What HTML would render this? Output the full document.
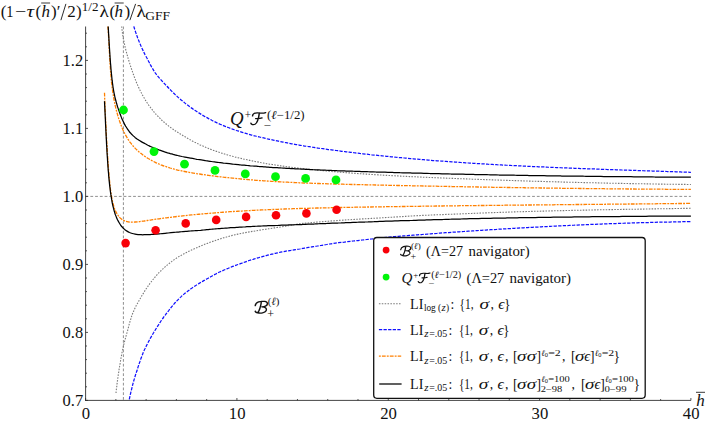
<!DOCTYPE html>
<html><head><meta charset="utf-8"><title>plot</title>
<style>html,body{margin:0;padding:0;background:#fff}body{width:706px;height:426px;position:relative;overflow:hidden;font-family:"Liberation Serif",serif}</style></head>
<body>
<svg width="706" height="426" viewBox="0 0 706 426" style="position:absolute;left:0;top:0;font-family:'Liberation Serif',serif">
<rect width="706" height="426" fill="#fff"/>
<g fill="none" stroke="#7c7c7c" stroke-width="0.85" stroke-dasharray="2.8 1.95">
<path d="M85.6 196.4H690.9"/>
<path d="M123.4 26.5V400.4"/>
</g>
<g fill="none" stroke-linecap="butt" stroke-linejoin="round">
<path stroke="#7a7a7a" stroke-width="1.1" stroke-dasharray="1.55 1.32" d="M121.7 26.4C121.7 26.9 121.9 28.4 122.0 29.4C122.1 30.4 122.2 31.4 122.4 32.4C122.5 33.4 122.6 34.4 122.8 35.4C123.0 36.4 123.1 37.3 123.3 38.3C123.5 39.3 123.7 40.3 123.9 41.2C124.0 42.2 124.3 43.2 124.5 44.2C124.7 45.1 124.9 46.1 125.1 47.1C125.4 48.0 125.6 49.0 125.8 50.0C126.1 50.9 126.3 51.9 126.6 52.8C126.9 53.8 127.1 54.8 127.4 55.7C127.7 56.7 128.0 57.6 128.2 58.6C128.5 59.5 128.8 60.5 129.1 61.5C129.4 62.4 129.7 63.4 130.0 64.3C130.3 65.3 130.6 66.2 130.9 67.2C131.2 68.1 131.5 69.1 131.9 70.0C132.2 71.0 132.5 71.9 132.8 72.9C133.2 73.8 133.5 74.8 133.9 75.7C134.2 76.7 134.6 77.6 134.9 78.5C135.3 79.5 135.7 80.4 136.0 81.3C136.4 82.3 136.8 83.2 137.2 84.1C137.6 85.0 138.0 85.9 138.4 86.9C138.8 87.8 139.3 88.7 139.7 89.6C140.1 90.5 140.6 91.4 141.0 92.3C141.5 93.1 141.9 94.0 142.4 94.9C142.9 95.8 143.4 96.6 143.9 97.5C144.4 98.4 144.9 99.2 145.4 100.1C145.9 100.9 146.5 101.8 147.0 102.6C147.6 103.4 148.1 104.2 148.7 105.1C149.3 105.9 149.9 106.7 150.5 107.5C151.1 108.3 151.7 109.1 152.3 109.8C152.9 110.6 153.5 111.4 154.2 112.1C154.8 112.9 155.5 113.7 156.1 114.4C156.8 115.1 157.5 115.9 158.2 116.6C158.9 117.3 159.6 118.0 160.3 118.7C161.0 119.4 161.7 120.1 162.4 120.8C163.2 121.4 163.9 122.1 164.7 122.7C165.4 123.4 166.2 124.0 167.0 124.7C167.8 125.3 168.5 125.9 169.3 126.5C170.1 127.1 170.9 127.7 171.7 128.3C172.6 128.9 173.4 129.5 174.2 130.0C175.0 130.6 175.9 131.2 176.7 131.7C177.5 132.3 178.4 132.8 179.2 133.3C180.1 133.9 180.9 134.4 181.8 134.9C182.7 135.4 183.5 136.0 184.4 136.5C185.2 137.0 186.1 137.5 187.0 138.0C187.8 138.5 188.7 139.0 189.6 139.5C190.5 139.9 191.3 140.4 192.2 140.9C193.1 141.4 194.0 141.8 194.9 142.3C195.8 142.7 196.7 143.2 197.5 143.6C198.4 144.0 199.3 144.5 200.2 144.9C201.2 145.3 202.1 145.7 203.0 146.1C203.9 146.5 204.8 146.9 205.7 147.3C206.6 147.7 207.6 148.1 208.5 148.4C209.4 148.8 210.3 149.2 211.3 149.5C212.2 149.9 213.1 150.2 214.1 150.6C215.0 150.9 216.0 151.2 216.9 151.5C217.8 151.9 218.8 152.2 219.7 152.5C220.7 152.8 221.6 153.1 222.6 153.4C223.5 153.7 224.5 154.0 225.5 154.3C226.4 154.6 227.4 154.8 228.3 155.1C229.3 155.4 230.3 155.7 231.2 155.9C232.2 156.2 233.1 156.4 234.1 156.7C235.1 157.0 236.1 157.2 237.0 157.4C238.0 157.7 239.0 157.9 239.9 158.2C240.9 158.4 241.9 158.6 242.9 158.8C243.8 159.1 244.8 159.3 245.8 159.5C246.8 159.7 247.7 159.9 248.7 160.1C249.7 160.4 250.7 160.6 251.6 160.8C252.6 161.0 253.6 161.2 254.6 161.4C255.6 161.6 256.5 161.8 257.5 161.9C258.5 162.1 259.5 162.3 260.5 162.5C261.4 162.7 262.4 162.9 263.4 163.0C264.4 163.2 265.4 163.4 266.4 163.6C267.3 163.7 268.3 163.9 269.3 164.1C270.3 164.2 271.3 164.4 272.3 164.5C273.3 164.7 274.2 164.8 275.2 165.0C276.2 165.2 277.2 165.3 278.2 165.4C279.2 165.6 280.2 165.7 281.2 165.9C282.1 166.0 283.1 166.2 284.1 166.3C285.1 166.4 286.1 166.6 287.1 166.7C288.1 166.8 289.1 167.0 290.1 167.1C291.0 167.2 292.0 167.3 293.0 167.5C294.0 167.6 295.0 167.7 296.0 167.8C297.0 168.0 298.0 168.1 299.0 168.2C300.0 168.3 301.0 168.4 301.9 168.5C302.9 168.6 303.9 168.8 304.9 168.9C305.9 169.0 306.9 169.1 307.9 169.2C308.9 169.3 309.9 169.4 310.9 169.5C311.9 169.6 312.9 169.7 313.9 169.8C314.9 169.9 315.8 170.0 316.8 170.1C317.8 170.2 318.8 170.3 319.8 170.4C320.8 170.5 321.8 170.6 322.8 170.7C323.8 170.8 324.8 170.8 325.8 170.9C326.8 171.0 327.8 171.1 328.8 171.2C329.8 171.3 330.8 171.4 331.8 171.5C332.7 171.6 333.7 171.6 334.7 171.7C335.7 171.8 336.7 171.9 337.7 172.0C338.7 172.1 339.7 172.1 340.7 172.2C341.7 172.3 342.7 172.4 343.7 172.5C344.7 172.5 345.7 172.6 346.7 172.7C347.7 172.8 348.7 172.9 349.7 172.9C350.7 173.0 351.7 173.1 352.7 173.2C353.6 173.2 354.6 173.3 355.6 173.4C356.6 173.4 357.6 173.5 358.6 173.6C359.6 173.7 360.6 173.7 361.6 173.8C362.6 173.9 363.6 173.9 364.6 174.0C365.6 174.1 366.6 174.1 367.6 174.2C368.6 174.3 369.6 174.3 370.6 174.4C371.6 174.5 372.6 174.5 373.6 174.6C374.6 174.6 375.6 174.7 376.6 174.8C377.6 174.8 378.6 174.9 379.5 174.9C380.5 175.0 381.5 175.1 382.5 175.1C383.5 175.2 384.5 175.2 385.5 175.3C386.5 175.4 387.5 175.4 388.5 175.5C389.5 175.5 390.5 175.6 391.5 175.6C392.5 175.7 393.5 175.7 394.5 175.8C395.5 175.8 396.5 175.9 397.5 175.9C398.5 176.0 399.5 176.1 400.5 176.1C401.5 176.2 402.5 176.2 403.5 176.3C404.5 176.3 405.5 176.4 406.5 176.4C407.5 176.5 408.5 176.5 409.5 176.6C410.5 176.6 411.5 176.6 412.5 176.7C413.5 176.7 414.4 176.8 415.4 176.8C416.4 176.9 417.4 176.9 418.4 177.0C419.4 177.0 420.4 177.1 421.4 177.1C422.4 177.2 423.4 177.2 424.4 177.2C425.4 177.3 426.4 177.3 427.4 177.4C428.4 177.4 429.4 177.5 430.4 177.5C431.4 177.5 432.4 177.6 433.4 177.6C434.4 177.7 435.4 177.7 436.4 177.8C437.4 177.8 438.4 177.8 439.4 177.9C440.4 177.9 441.4 178.0 442.4 178.0C443.4 178.0 444.4 178.1 445.4 178.1C446.4 178.2 447.4 178.2 448.4 178.2C449.4 178.3 450.4 178.3 451.4 178.4C452.4 178.4 453.4 178.4 454.4 178.5C455.4 178.5 456.4 178.6 457.4 178.6C458.3 178.6 459.3 178.7 460.3 178.7C461.3 178.7 462.3 178.8 463.3 178.8C464.3 178.9 465.3 178.9 466.3 178.9C467.3 179.0 468.3 179.0 469.3 179.0C470.3 179.1 471.3 179.1 472.3 179.2C473.3 179.2 474.3 179.2 475.3 179.3C476.3 179.3 477.3 179.3 478.3 179.4C479.3 179.4 480.3 179.5 481.3 179.5C482.3 179.5 483.3 179.6 484.3 179.6C485.3 179.6 486.3 179.7 487.3 179.7C488.3 179.7 489.3 179.8 490.3 179.8C491.3 179.8 492.3 179.9 493.3 179.9C494.3 179.9 495.3 180.0 496.3 180.0C497.3 180.0 498.3 180.1 499.3 180.1C500.3 180.1 501.3 180.2 502.3 180.2C503.3 180.2 504.2 180.3 505.2 180.3C506.2 180.3 507.2 180.4 508.2 180.4C509.2 180.4 510.2 180.5 511.2 180.5C512.2 180.5 513.2 180.6 514.2 180.6C515.2 180.6 516.2 180.7 517.2 180.7C518.2 180.7 519.2 180.8 520.2 180.8C521.2 180.8 522.2 180.9 523.2 180.9C524.2 180.9 525.2 181.0 526.2 181.0C527.2 181.0 528.2 181.0 529.2 181.1C530.2 181.1 531.2 181.1 532.2 181.2C533.2 181.2 534.2 181.2 535.2 181.3C536.2 181.3 537.2 181.3 538.2 181.4C539.2 181.4 540.2 181.4 541.2 181.4C542.2 181.5 543.2 181.5 544.2 181.5C545.2 181.6 546.2 181.6 547.2 181.6C548.2 181.6 549.2 181.7 550.2 181.7C551.1 181.7 552.1 181.8 553.1 181.8C554.1 181.8 555.1 181.8 556.1 181.9C557.1 181.9 558.1 181.9 559.1 181.9C560.1 182.0 561.1 182.0 562.1 182.0C563.1 182.1 564.1 182.1 565.1 182.1C566.1 182.1 567.1 182.2 568.1 182.2C569.1 182.2 570.1 182.2 571.1 182.3C572.1 182.3 573.1 182.3 574.1 182.3C575.1 182.4 576.1 182.4 577.1 182.4C578.1 182.4 579.1 182.5 580.1 182.5C581.1 182.5 582.1 182.5 583.1 182.6C584.1 182.6 585.1 182.6 586.1 182.6C587.1 182.7 588.1 182.7 589.1 182.7C590.1 182.7 591.1 182.8 592.1 182.8C593.1 182.8 594.1 182.8 595.1 182.8C596.1 182.9 597.1 182.9 598.1 182.9C599.1 182.9 600.1 183.0 601.0 183.0C602.0 183.0 603.0 183.0 604.0 183.0C605.0 183.1 606.0 183.1 607.0 183.1C608.0 183.1 609.0 183.2 610.0 183.2C611.0 183.2 612.0 183.2 613.0 183.2C614.0 183.3 615.0 183.3 616.0 183.3C617.0 183.3 618.0 183.3 619.0 183.4C620.0 183.4 621.0 183.4 622.0 183.4C623.0 183.4 624.0 183.5 625.0 183.5C626.0 183.5 627.0 183.5 628.0 183.5C629.0 183.6 630.0 183.6 631.0 183.6C632.0 183.6 633.0 183.6 634.0 183.6C635.0 183.7 636.0 183.7 637.0 183.7C638.0 183.7 639.0 183.7 640.0 183.8C641.0 183.8 642.0 183.8 643.0 183.8C644.0 183.8 645.0 183.8 646.0 183.9C647.0 183.9 648.0 183.9 649.0 183.9C650.0 183.9 651.0 183.9 652.0 184.0C653.0 184.0 654.0 184.0 655.0 184.0C656.0 184.0 657.0 184.0 657.9 184.1C658.9 184.1 659.9 184.1 660.9 184.1C661.9 184.1 662.9 184.1 663.9 184.1C664.9 184.2 665.9 184.2 666.9 184.2C667.9 184.2 668.9 184.2 669.9 184.2C670.9 184.2 671.9 184.3 672.9 184.3C673.9 184.3 674.9 184.3 675.9 184.3C676.9 184.3 677.9 184.3 678.9 184.4C679.9 184.4 680.9 184.4 681.9 184.4C682.9 184.4 683.9 184.4 684.9 184.4C685.9 184.4 686.9 184.5 687.9 184.5C688.9 184.5 690.4 184.5 690.9 184.5"/>
<path stroke="#7a7a7a" stroke-width="1.1" stroke-dasharray="1.55 1.32" d="M116.0 393.0C116.1 392.5 116.2 391.0 116.3 390.0C116.4 389.0 116.6 388.0 116.7 387.1C116.8 386.1 116.9 385.1 117.0 384.1C117.2 383.1 117.3 382.1 117.4 381.1C117.6 380.1 117.7 379.2 117.8 378.2C118.0 377.2 118.1 376.2 118.2 375.2C118.4 374.2 118.5 373.2 118.7 372.3C118.8 371.3 119.0 370.3 119.1 369.3C119.3 368.3 119.4 367.3 119.6 366.4C119.7 365.4 119.9 364.4 120.1 363.4C120.2 362.4 120.4 361.4 120.6 360.5C120.8 359.5 120.9 358.5 121.1 357.5C121.3 356.6 121.5 355.6 121.7 354.6C121.9 353.6 122.0 352.6 122.2 351.7C122.4 350.7 122.6 349.7 122.9 348.8C123.1 347.8 123.3 346.8 123.5 345.8C123.7 344.9 123.9 343.9 124.2 342.9C124.4 342.0 124.7 341.0 124.9 340.0C125.2 339.1 125.5 338.1 125.7 337.1C126.0 336.2 126.3 335.2 126.5 334.2C126.8 333.3 127.1 332.3 127.4 331.3C127.7 330.4 127.9 329.4 128.2 328.5C128.4 327.5 128.6 326.5 128.9 325.6C129.1 324.7 129.3 323.8 129.6 322.9C129.9 322.0 130.1 321.1 130.4 320.3C130.7 319.4 131.0 318.5 131.2 317.6C131.5 316.7 131.8 315.9 132.1 315.0C132.4 314.1 132.7 313.3 133.1 312.4C133.4 311.6 133.8 310.7 134.2 309.9C134.6 309.0 135.0 308.2 135.4 307.3C135.8 306.5 136.2 305.7 136.6 304.9C137.0 304.1 137.5 303.3 137.9 302.5C138.4 301.7 138.8 301.0 139.3 300.2C139.8 299.4 140.2 298.6 140.7 297.8C141.2 296.9 141.7 296.0 142.2 295.2C142.7 294.3 143.2 293.5 143.8 292.6C144.3 291.8 144.8 290.9 145.4 290.1C145.9 289.2 146.5 288.4 147.1 287.5C147.7 286.7 148.2 285.8 148.8 285.0C149.4 284.2 150.0 283.4 150.6 282.5C151.3 281.7 151.9 280.9 152.5 280.1C153.2 279.3 153.8 278.5 154.5 277.8C155.1 277.0 155.8 276.2 156.5 275.5C157.1 274.7 157.8 273.9 158.5 273.2C159.2 272.5 159.9 271.7 160.7 271.0C161.4 270.3 162.1 269.6 162.9 268.9C163.6 268.2 164.4 267.6 165.1 266.9C165.9 266.2 166.6 265.6 167.4 264.9C168.2 264.3 169.0 263.6 169.8 263.0C170.6 262.4 171.4 261.7 172.2 261.1C173.0 260.5 173.8 259.9 174.7 259.3C175.5 258.7 176.3 258.2 177.2 257.7C178.0 257.1 178.9 256.6 179.7 256.2C180.6 255.7 181.4 255.2 182.3 254.7C183.2 254.2 184.0 253.8 184.9 253.3C185.8 252.8 186.7 252.4 187.6 252.0C188.4 251.5 189.3 251.1 190.2 250.7C191.1 250.2 192.0 249.8 192.9 249.4C193.8 249.0 194.7 248.6 195.6 248.2C196.6 247.8 197.5 247.4 198.4 247.0C199.3 246.6 200.2 246.2 201.1 245.8C202.0 245.4 203.0 245.1 203.9 244.7C204.8 244.3 205.7 244.0 206.7 243.6C207.6 243.3 208.5 242.9 209.5 242.6C210.4 242.2 211.3 241.9 212.3 241.6C213.2 241.2 214.1 240.9 215.1 240.6C216.0 240.3 217.0 240.0 217.9 239.6C218.9 239.3 219.8 239.0 220.7 238.7C221.7 238.4 222.6 238.1 223.6 237.8C224.5 237.6 225.5 237.3 226.5 237.0C227.4 236.7 228.4 236.5 229.3 236.2C230.3 235.9 231.2 235.7 232.2 235.4C233.2 235.2 234.1 234.9 235.1 234.7C236.1 234.5 237.0 234.3 238.0 234.1C239.0 233.9 239.9 233.7 240.9 233.5C241.9 233.3 242.8 233.1 243.8 232.9C244.8 232.7 245.7 232.6 246.7 232.4C247.7 232.2 248.7 232.0 249.6 231.9C250.6 231.7 251.6 231.5 252.6 231.4C253.5 231.2 254.5 231.0 255.5 230.9C256.5 230.7 257.4 230.5 258.4 230.4C259.4 230.2 260.4 230.1 261.4 229.9C262.3 229.7 263.3 229.6 264.3 229.5C265.3 229.3 266.3 229.2 267.3 229.0C268.2 228.9 269.2 228.7 270.2 228.6C271.2 228.4 272.2 228.2 273.2 228.1C274.2 227.9 275.2 227.8 276.1 227.6C277.1 227.5 278.1 227.3 279.1 227.2C280.1 227.0 281.1 226.9 282.1 226.7C283.1 226.6 284.1 226.5 285.0 226.3C286.0 226.2 287.0 225.9 288.0 225.8C289.0 225.6 290.0 225.4 291.0 225.2C292.0 225.1 293.0 224.9 294.0 224.7C295.0 224.6 296.0 224.4 296.9 224.2C297.9 224.1 298.9 223.9 299.9 223.7C300.9 223.6 301.9 223.5 302.9 223.4C303.9 223.3 304.9 223.2 305.9 223.1C306.9 223.0 307.9 222.9 308.9 222.8C309.9 222.8 310.9 222.7 311.9 222.6C312.9 222.5 313.8 222.4 314.8 222.3C315.8 222.2 316.8 222.1 317.8 222.0C318.8 222.0 319.8 221.9 320.8 221.8C321.8 221.7 322.8 221.6 323.8 221.6C324.8 221.5 325.8 221.4 326.8 221.3C327.8 221.2 328.8 221.2 329.8 221.1C330.7 221.0 331.7 220.9 332.7 220.9C333.7 220.8 334.7 220.7 335.7 220.6C336.7 220.6 337.7 220.5 338.7 220.4C339.7 220.3 340.7 220.3 341.7 220.2C342.7 220.1 343.7 220.1 344.6 220.0C345.6 220.0 346.6 219.9 347.6 219.8C348.6 219.8 349.6 219.7 350.6 219.7C351.6 219.6 352.6 219.5 353.6 219.5C354.6 219.4 355.6 219.4 356.6 219.3C357.6 219.2 358.6 219.2 359.5 219.1C360.5 219.1 361.5 219.0 362.5 218.9C363.5 218.9 364.5 218.8 365.5 218.8C366.5 218.7 367.5 218.6 368.5 218.6C369.5 218.5 370.5 218.5 371.5 218.4C372.5 218.4 373.4 218.3 374.4 218.2C375.4 218.2 376.4 218.1 377.4 218.1C378.4 218.0 379.4 217.9 380.4 217.9C381.4 217.8 382.4 217.8 383.4 217.7C384.4 217.6 385.4 217.6 386.4 217.5C387.4 217.5 388.4 217.4 389.4 217.3C390.3 217.3 391.3 217.2 392.3 217.2C393.3 217.1 394.3 217.0 395.3 217.0C396.3 216.9 397.3 216.9 398.3 216.8C399.3 216.7 400.3 216.7 401.3 216.6C402.3 216.6 403.3 216.5 404.3 216.4C405.3 216.4 406.3 216.3 407.3 216.3C408.2 216.2 409.2 216.1 410.2 216.1C411.2 216.0 412.2 216.0 413.2 215.9C414.2 215.9 415.2 215.8 416.2 215.7C417.2 215.7 418.2 215.6 419.2 215.6C420.2 215.5 421.2 215.5 422.2 215.4C423.2 215.4 424.2 215.3 425.2 215.3C426.2 215.2 427.1 215.2 428.1 215.2C429.1 215.1 430.1 215.1 431.1 215.0C432.1 215.0 433.1 215.0 434.1 214.9C435.1 214.9 436.1 214.8 437.1 214.8C438.1 214.8 439.1 214.7 440.1 214.7C441.1 214.6 442.1 214.6 443.1 214.6C444.1 214.5 445.1 214.5 446.1 214.4C447.0 214.4 448.0 214.4 449.0 214.3C450.0 214.3 451.0 214.2 452.0 214.2C453.0 214.2 454.0 214.1 455.0 214.1C456.0 214.1 457.0 214.0 458.0 214.0C459.0 214.0 460.0 213.9 461.0 213.9C462.0 213.8 463.0 213.8 464.0 213.7C465.0 213.7 466.0 213.7 467.0 213.6C467.9 213.6 468.9 213.5 469.9 213.5C470.9 213.5 471.9 213.4 472.9 213.4C473.9 213.3 474.9 213.3 475.9 213.3C476.9 213.2 477.9 213.2 478.9 213.1C479.9 213.1 480.9 213.1 481.9 213.0C482.9 213.0 483.9 213.0 484.9 212.9C485.9 212.9 486.9 212.8 487.8 212.8C488.8 212.8 489.8 212.7 490.8 212.7C491.8 212.7 492.8 212.6 493.8 212.6C494.8 212.6 495.8 212.5 496.8 212.5C497.8 212.5 498.8 212.4 499.8 212.4C500.8 212.4 501.8 212.3 502.8 212.3C503.8 212.3 504.8 212.2 505.8 212.2C506.8 212.2 507.7 212.1 508.7 212.1C509.7 212.1 510.7 212.0 511.7 212.0C512.7 212.0 513.7 211.9 514.7 211.9C515.7 211.9 516.7 211.8 517.7 211.8C518.7 211.8 519.7 211.8 520.7 211.7C521.7 211.7 522.7 211.7 523.7 211.6C524.7 211.6 525.7 211.6 526.7 211.5C527.7 211.5 528.6 211.5 529.6 211.5C530.6 211.4 531.6 211.4 532.6 211.4C533.6 211.3 534.6 211.3 535.6 211.3C536.6 211.3 537.6 211.2 538.6 211.2C539.6 211.2 540.6 211.2 541.6 211.1C542.6 211.1 543.6 211.1 544.6 211.1C545.6 211.0 546.6 211.0 547.6 211.0C548.5 211.0 549.5 210.9 550.5 210.9C551.5 210.9 552.5 210.9 553.5 210.8C554.5 210.8 555.5 210.8 556.5 210.8C557.5 210.7 558.5 210.7 559.5 210.7C560.5 210.7 561.5 210.6 562.5 210.6C563.5 210.6 564.5 210.6 565.5 210.5C566.5 210.5 567.5 210.5 568.5 210.5C569.4 210.5 570.4 210.4 571.4 210.4C572.4 210.4 573.4 210.4 574.4 210.3C575.4 210.3 576.4 210.3 577.4 210.3C578.4 210.3 579.4 210.2 580.4 210.2C581.4 210.2 582.4 210.2 583.4 210.1C584.4 210.1 585.4 210.1 586.4 210.1C587.4 210.1 588.4 210.0 589.4 210.0C590.3 210.0 591.3 210.0 592.3 210.0C593.3 209.9 594.3 209.9 595.3 209.9C596.3 209.9 597.3 209.9 598.3 209.8C599.3 209.8 600.3 209.8 601.3 209.8C602.3 209.8 603.3 209.8 604.3 209.7C605.3 209.7 606.3 209.7 607.3 209.7C608.3 209.7 609.3 209.6 610.3 209.6C611.2 209.6 612.2 209.6 613.2 209.6C614.2 209.5 615.2 209.5 616.2 209.5C617.2 209.5 618.2 209.5 619.2 209.5C620.2 209.4 621.2 209.4 622.2 209.4C623.2 209.4 624.2 209.4 625.2 209.4C626.2 209.3 627.2 209.3 628.2 209.3C629.2 209.3 630.2 209.3 631.2 209.3C632.2 209.2 633.1 209.2 634.1 209.2C635.1 209.2 636.1 209.2 637.1 209.2C638.1 209.1 639.1 209.1 640.1 209.1C641.1 209.1 642.1 209.1 643.1 209.1C644.1 209.0 645.1 209.0 646.1 209.0C647.1 209.0 648.1 209.0 649.1 209.0C650.1 208.9 651.1 208.9 652.1 208.9C653.1 208.9 654.1 208.9 655.1 208.9C656.0 208.8 657.0 208.8 658.0 208.8C659.0 208.8 660.0 208.8 661.0 208.8C662.0 208.8 663.0 208.7 664.0 208.7C665.0 208.7 666.0 208.7 667.0 208.7C668.0 208.7 669.0 208.6 670.0 208.6C671.0 208.6 672.0 208.6 673.0 208.6C674.0 208.6 675.0 208.5 676.0 208.5C677.0 208.5 678.0 208.5 678.9 208.5C679.9 208.5 680.9 208.5 681.9 208.4C682.9 208.4 683.9 208.4 684.9 208.4C685.9 208.4 686.9 208.4 687.9 208.3C688.9 208.3 690.4 208.3 690.9 208.3"/>
<path stroke="#1010ff" stroke-width="1.25" stroke-dasharray="3.3 1.3" d="M133.8 26.4C133.9 26.9 134.4 28.3 134.7 29.3C135.0 30.2 135.3 31.2 135.6 32.1C135.9 33.0 136.3 34.0 136.6 34.9C136.9 35.9 137.3 36.8 137.6 37.7C138.0 38.7 138.3 39.6 138.7 40.5C139.1 41.5 139.4 42.4 139.8 43.3C140.2 44.2 140.6 45.1 141.0 46.1C141.4 47.0 141.8 47.9 142.2 48.8C142.6 49.7 143.1 50.6 143.5 51.5C143.9 52.4 144.4 53.3 144.8 54.2C145.3 55.1 145.7 55.9 146.2 56.8C146.7 57.7 147.2 58.6 147.6 59.4C148.1 60.3 148.5 61.2 149.0 62.0C149.4 62.9 149.9 63.7 150.3 64.6C150.8 65.4 151.3 66.3 151.7 67.1C152.2 68.0 152.7 68.8 153.2 69.6C153.7 70.4 154.2 71.3 154.7 72.1C155.2 72.9 155.8 73.7 156.4 74.5C157.0 75.3 157.7 76.1 158.4 76.9C159.1 77.7 159.7 78.4 160.4 79.2C161.1 80.0 161.8 80.8 162.5 81.5C163.2 82.3 164.0 83.1 164.7 83.8C165.4 84.6 166.1 85.3 166.8 86.0C167.5 86.8 168.1 87.5 168.8 88.2C169.5 89.0 170.2 89.7 170.9 90.4C171.6 91.1 172.3 91.8 173.0 92.5C173.7 93.2 174.4 93.9 175.2 94.6C175.9 95.3 176.6 95.9 177.4 96.6C178.1 97.3 178.8 97.9 179.6 98.6C180.3 99.2 181.1 99.9 181.9 100.5C182.6 101.2 183.4 101.8 184.2 102.4C185.0 103.0 185.7 103.7 186.5 104.3C187.3 104.9 188.1 105.5 188.9 106.1C189.7 106.7 190.5 107.3 191.3 107.9C192.1 108.4 193.0 109.0 193.8 109.6C194.6 110.1 195.4 110.7 196.3 111.2C197.1 111.8 197.9 112.3 198.8 112.9C199.6 113.4 200.5 113.9 201.3 114.4C202.2 115.0 203.0 115.5 203.9 116.0C204.8 116.5 205.6 117.0 206.5 117.4C207.4 117.9 208.2 118.4 209.1 118.9C210.0 119.3 210.9 119.8 211.8 120.3C212.6 120.7 213.5 121.2 214.4 121.6C215.3 122.0 216.2 122.4 217.1 122.9C218.0 123.3 218.9 123.7 219.8 124.1C220.8 124.5 221.7 124.9 222.6 125.3C223.5 125.7 224.4 126.0 225.3 126.4C226.3 126.8 227.2 127.1 228.1 127.5C229.0 127.9 230.0 128.2 230.9 128.5C231.8 128.9 232.8 129.2 233.7 129.5C234.6 129.9 235.6 130.2 236.5 130.5C237.5 130.8 238.4 131.1 239.4 131.4C240.3 131.7 241.3 132.0 242.2 132.3C243.2 132.6 244.1 132.9 245.1 133.2C246.0 133.5 247.0 133.7 248.0 134.0C248.9 134.3 249.9 134.6 250.8 134.8C251.8 135.1 252.8 135.3 253.7 135.6C254.7 135.8 255.7 136.1 256.6 136.3C257.6 136.6 258.6 136.8 259.5 137.0C260.5 137.3 261.5 137.5 262.5 137.7C263.4 138.0 264.4 138.2 265.4 138.4C266.3 138.6 267.3 138.9 268.3 139.1C269.3 139.3 270.2 139.5 271.2 139.7C272.2 139.9 273.2 140.1 274.2 140.3C275.1 140.5 276.1 140.7 277.1 140.9C278.1 141.1 279.0 141.3 280.0 141.5C281.0 141.7 282.0 141.9 283.0 142.1C283.9 142.3 284.9 142.5 285.9 142.7C286.9 142.9 287.8 143.0 288.8 143.2C289.8 143.4 290.8 143.6 291.8 143.8C292.8 143.9 293.7 144.1 294.7 144.3C295.7 144.5 296.7 144.6 297.7 144.8C298.6 145.0 299.6 145.1 300.6 145.3C301.6 145.5 302.6 145.6 303.6 145.8C304.5 145.9 305.5 146.1 306.5 146.3C307.5 146.4 308.5 146.6 309.5 146.7C310.4 146.9 311.4 147.0 312.4 147.2C313.4 147.3 314.4 147.5 315.4 147.6C316.4 147.8 317.3 147.9 318.3 148.1C319.3 148.2 320.3 148.4 321.3 148.5C322.3 148.6 323.3 148.8 324.2 148.9C325.2 149.1 326.2 149.2 327.2 149.3C328.2 149.5 329.2 149.6 330.2 149.7C331.1 149.9 332.1 150.0 333.1 150.1C334.1 150.3 335.1 150.4 336.1 150.5C337.1 150.6 338.1 150.8 339.0 150.9C340.0 151.0 341.0 151.2 342.0 151.3C343.0 151.4 344.0 151.5 345.0 151.6C346.0 151.8 347.0 151.9 347.9 152.0C348.9 152.1 349.9 152.3 350.9 152.4C351.9 152.5 352.9 152.6 353.9 152.7C354.9 152.8 355.8 153.0 356.8 153.1C357.8 153.2 358.8 153.3 359.8 153.4C360.8 153.5 361.8 153.7 362.8 153.8C363.8 153.9 364.8 154.0 365.7 154.1C366.7 154.2 367.7 154.3 368.7 154.4C369.7 154.5 370.7 154.6 371.7 154.8C372.7 154.9 373.7 155.0 374.7 155.1C375.6 155.2 376.6 155.3 377.6 155.4C378.6 155.5 379.6 155.6 380.6 155.7C381.6 155.8 382.6 155.9 383.6 156.0C384.6 156.1 385.5 156.2 386.5 156.3C387.5 156.4 388.5 156.5 389.5 156.6C390.5 156.7 391.5 156.8 392.5 156.9C393.5 157.0 394.5 157.1 395.5 157.2C396.4 157.3 397.4 157.4 398.4 157.5C399.4 157.6 400.4 157.7 401.4 157.7C402.4 157.8 403.4 157.9 404.4 158.0C405.4 158.1 406.4 158.2 407.4 158.3C408.3 158.4 409.3 158.5 410.3 158.6C411.3 158.6 412.3 158.7 413.3 158.8C414.3 158.9 415.3 159.0 416.3 159.1C417.3 159.2 418.3 159.2 419.3 159.3C420.3 159.4 421.2 159.5 422.2 159.6C423.2 159.7 424.2 159.7 425.2 159.8C426.2 159.9 427.2 160.0 428.2 160.1C429.2 160.2 430.2 160.2 431.2 160.3C432.2 160.4 433.2 160.5 434.1 160.5C435.1 160.6 436.1 160.7 437.1 160.8C438.1 160.9 439.1 160.9 440.1 161.0C441.1 161.1 442.1 161.2 443.1 161.2C444.1 161.3 445.1 161.4 446.1 161.4C447.1 161.5 448.1 161.6 449.0 161.7C450.0 161.7 451.0 161.8 452.0 161.9C453.0 161.9 454.0 162.0 455.0 162.1C456.0 162.2 457.0 162.2 458.0 162.3C459.0 162.4 460.0 162.4 461.0 162.5C462.0 162.6 463.0 162.6 464.0 162.7C464.9 162.8 465.9 162.8 466.9 162.9C467.9 163.0 468.9 163.0 469.9 163.1C470.9 163.1 471.9 163.2 472.9 163.3C473.9 163.3 474.9 163.4 475.9 163.5C476.9 163.5 477.9 163.6 478.9 163.6C479.9 163.7 480.9 163.8 481.9 163.8C482.8 163.9 483.8 163.9 484.8 164.0C485.8 164.1 486.8 164.1 487.8 164.2C488.8 164.2 489.8 164.3 490.8 164.4C491.8 164.4 492.8 164.5 493.8 164.5C494.8 164.6 495.8 164.6 496.8 164.7C497.8 164.7 498.8 164.8 499.8 164.9C500.8 164.9 501.7 165.0 502.7 165.0C503.7 165.1 504.7 165.1 505.7 165.2C506.7 165.2 507.7 165.3 508.7 165.3C509.7 165.4 510.7 165.4 511.7 165.5C512.7 165.5 513.7 165.6 514.7 165.6C515.7 165.7 516.7 165.7 517.7 165.8C518.7 165.8 519.7 165.9 520.7 165.9C521.7 166.0 522.6 166.0 523.6 166.1C524.6 166.1 525.6 166.2 526.6 166.2C527.6 166.3 528.6 166.3 529.6 166.4C530.6 166.4 531.6 166.5 532.6 166.5C533.6 166.6 534.6 166.6 535.6 166.6C536.6 166.7 537.6 166.7 538.6 166.8C539.6 166.8 540.6 166.9 541.6 166.9C542.6 167.0 543.6 167.0 544.6 167.0C545.5 167.1 546.5 167.1 547.5 167.2C548.5 167.2 549.5 167.3 550.5 167.3C551.5 167.3 552.5 167.4 553.5 167.4C554.5 167.5 555.5 167.5 556.5 167.6C557.5 167.6 558.5 167.6 559.5 167.7C560.5 167.7 561.5 167.8 562.5 167.8C563.5 167.8 564.5 167.9 565.5 167.9C566.5 168.0 567.5 168.0 568.5 168.0C569.4 168.1 570.4 168.1 571.4 168.2C572.4 168.2 573.4 168.2 574.4 168.3C575.4 168.3 576.4 168.3 577.4 168.4C578.4 168.4 579.4 168.5 580.4 168.5C581.4 168.5 582.4 168.6 583.4 168.6C584.4 168.6 585.4 168.7 586.4 168.7C587.4 168.8 588.4 168.8 589.4 168.8C590.4 168.9 591.4 168.9 592.4 168.9C593.4 169.0 594.3 169.0 595.3 169.0C596.3 169.1 597.3 169.1 598.3 169.2C599.3 169.2 600.3 169.2 601.3 169.3C602.3 169.3 603.3 169.3 604.3 169.4C605.3 169.4 606.3 169.4 607.3 169.5C608.3 169.5 609.3 169.5 610.3 169.6C611.3 169.6 612.3 169.6 613.3 169.7C614.3 169.7 615.3 169.7 616.3 169.8C617.3 169.8 618.2 169.8 619.2 169.9C620.2 169.9 621.2 169.9 622.2 170.0C623.2 170.0 624.2 170.0 625.2 170.1C626.2 170.1 627.2 170.1 628.2 170.2C629.2 170.2 630.2 170.2 631.2 170.3C632.2 170.3 633.2 170.3 634.2 170.4C635.2 170.4 636.2 170.4 637.2 170.5C638.2 170.5 639.2 170.5 640.2 170.6C641.1 170.6 642.1 170.6 643.1 170.7C644.1 170.7 645.1 170.7 646.1 170.8C647.1 170.8 648.1 170.8 649.1 170.9C650.1 170.9 651.1 170.9 652.1 171.0C653.1 171.0 654.1 171.0 655.1 171.1C656.1 171.1 657.1 171.1 658.1 171.2C659.1 171.2 660.1 171.2 661.1 171.3C662.1 171.3 663.0 171.3 664.0 171.4C665.0 171.4 666.0 171.4 667.0 171.5C668.0 171.5 669.0 171.5 670.0 171.6C671.0 171.6 672.0 171.6 673.0 171.7C674.0 171.7 675.0 171.7 676.0 171.8C677.0 171.8 678.0 171.9 679.0 171.9C680.0 171.9 681.0 172.0 681.9 172.0C682.9 172.0 683.9 172.1 684.9 172.1C685.9 172.1 686.9 172.2 687.9 172.2C688.9 172.2 690.4 172.3 690.9 172.3"/>
<path stroke="#1010ff" stroke-width="1.25" stroke-dasharray="3.3 1.3" d="M129.3 399.4C129.4 398.9 129.7 397.4 129.9 396.4C130.1 395.4 130.3 394.4 130.6 393.5C130.8 392.5 131.0 391.5 131.3 390.5C131.5 389.5 131.8 388.5 132.0 387.6C132.3 386.6 132.5 385.6 132.7 384.7C133.0 383.7 133.2 382.7 133.5 381.8C133.8 380.8 134.0 379.8 134.3 378.9C134.6 377.9 134.9 377.0 135.2 376.0C135.5 375.0 135.8 374.1 136.1 373.2C136.4 372.2 136.8 371.3 137.1 370.3C137.4 369.4 137.7 368.4 137.9 367.5C138.2 366.6 138.5 365.6 138.8 364.7C139.1 363.8 139.4 362.8 139.8 361.9C140.1 361.0 140.4 360.1 140.7 359.2C141.1 358.2 141.4 357.3 141.8 356.4C142.1 355.5 142.5 354.6 142.8 353.7C143.2 352.8 143.5 351.9 143.9 351.0C144.3 350.1 144.7 349.2 145.2 348.3C145.6 347.4 146.0 346.5 146.5 345.6C147.0 344.7 147.4 343.8 147.9 342.9C148.3 342.1 148.8 341.2 149.3 340.3C149.8 339.4 150.2 338.5 150.7 337.7C151.2 336.8 151.7 335.9 152.2 335.1C152.7 334.2 153.2 333.3 153.7 332.5C154.2 331.6 154.7 330.8 155.3 329.9C155.8 329.1 156.3 328.2 156.9 327.4C157.4 326.5 157.9 325.7 158.5 324.9C159.0 324.0 159.6 323.2 160.1 322.4C160.7 321.5 161.2 320.7 161.8 319.9C162.4 319.1 163.0 318.3 163.5 317.4C164.1 316.6 164.7 315.8 165.3 315.0C165.9 314.2 166.5 313.4 167.1 312.6C167.7 311.8 168.3 311.0 168.9 310.3C169.5 309.5 170.2 308.7 170.8 307.9C171.4 307.1 172.0 306.4 172.7 305.6C173.3 304.8 174.0 304.0 174.6 303.3C175.3 302.6 175.9 301.9 176.6 301.2C177.3 300.4 177.9 299.8 178.6 299.1C179.3 298.4 180.0 297.7 180.7 297.1C181.4 296.4 182.1 295.7 182.8 295.1C183.6 294.5 184.3 293.8 185.0 293.2C185.8 292.6 186.5 292.0 187.3 291.5C188.1 290.9 188.9 290.3 189.7 289.7C190.4 289.1 191.3 288.5 192.1 288.0C192.9 287.4 193.7 286.9 194.6 286.3C195.4 285.8 196.2 285.2 197.1 284.7C197.9 284.2 198.8 283.6 199.6 283.1C200.5 282.6 201.3 282.1 202.1 281.6C203.0 281.1 203.8 280.6 204.7 280.1C205.5 279.6 206.4 279.2 207.2 278.7C208.1 278.2 209.0 277.7 209.8 277.2C210.7 276.8 211.5 276.3 212.4 275.8C213.2 275.3 214.1 274.9 215.0 274.4C215.8 274.0 216.7 273.5 217.6 273.1C218.4 272.6 219.3 272.2 220.2 271.8C221.1 271.4 222.0 271.0 222.8 270.6C223.7 270.2 224.6 269.8 225.5 269.4C226.4 269.0 227.3 268.6 228.2 268.3C229.1 267.9 230.0 267.5 230.9 267.2C231.8 266.8 232.7 266.5 233.6 266.2C234.5 265.8 235.4 265.5 236.3 265.2C237.2 264.8 238.1 264.5 239.1 264.2C240.0 263.9 240.9 263.5 241.8 263.2C242.8 262.8 243.7 262.5 244.6 262.2C245.6 261.8 246.5 261.5 247.4 261.2C248.4 260.8 249.3 260.5 250.3 260.2C251.2 259.9 252.1 259.6 253.1 259.3C254.0 259.0 255.0 258.7 255.9 258.4C256.9 258.1 257.8 257.8 258.8 257.6C259.8 257.3 260.7 257.0 261.7 256.8C262.6 256.5 263.6 256.2 264.6 256.0C265.5 255.7 266.5 255.5 267.5 255.2C268.4 255.0 269.4 254.7 270.4 254.5C271.3 254.3 272.3 254.0 273.3 253.8C274.3 253.6 275.2 253.3 276.2 253.1C277.2 252.9 278.2 252.7 279.1 252.5C280.1 252.3 281.1 252.1 282.1 251.9C283.1 251.7 284.1 251.5 285.0 251.3C286.0 251.1 287.0 250.9 288.0 250.8C289.0 250.6 290.0 250.4 290.9 250.3C291.9 250.1 292.9 250.0 293.9 249.8C294.9 249.7 295.9 249.5 296.9 249.4C297.8 249.2 298.8 249.1 299.8 249.0C300.8 248.8 301.8 248.6 302.8 248.4C303.8 248.2 304.8 248.1 305.7 247.9C306.7 247.7 307.7 247.6 308.7 247.4C309.7 247.2 310.7 247.1 311.7 246.9C312.7 246.8 313.7 246.6 314.7 246.5C315.7 246.3 316.6 246.2 317.6 246.0C318.6 245.8 319.6 245.6 320.6 245.5C321.6 245.3 322.6 245.1 323.6 245.0C324.6 244.8 325.6 244.6 326.6 244.5C327.6 244.3 328.5 244.1 329.5 244.0C330.5 243.8 331.5 243.6 332.5 243.5C333.5 243.3 334.5 243.2 335.5 243.1C336.5 243.0 337.5 242.9 338.5 242.7C339.5 242.6 340.5 242.5 341.5 242.4C342.4 242.3 343.4 242.2 344.4 242.1C345.4 241.9 346.4 241.8 347.4 241.7C348.4 241.6 349.4 241.5 350.4 241.4C351.4 241.3 352.4 241.1 353.4 241.0C354.4 240.9 355.4 240.8 356.4 240.7C357.4 240.6 358.3 240.5 359.3 240.3C360.3 240.2 361.3 240.1 362.3 240.0C363.3 239.9 364.3 239.8 365.3 239.7C366.3 239.6 367.3 239.4 368.3 239.3C369.3 239.2 370.3 239.1 371.3 239.0C372.3 238.9 373.3 238.8 374.2 238.7C375.2 238.6 376.2 238.4 377.2 238.3C378.2 238.2 379.2 238.1 380.2 238.0C381.2 237.9 382.2 237.8 383.2 237.7C384.2 237.6 385.2 237.5 386.2 237.4C387.2 237.3 388.2 237.2 389.2 237.1C390.1 237.0 391.1 236.9 392.1 236.8C393.1 236.7 394.1 236.6 395.1 236.5C396.1 236.4 397.1 236.4 398.1 236.3C399.1 236.2 400.1 236.1 401.1 236.1C402.1 236.0 403.1 235.9 404.1 235.8C405.1 235.8 406.1 235.7 407.1 235.6C408.0 235.5 409.0 235.4 410.0 235.4C411.0 235.3 412.0 235.2 413.0 235.1C414.0 235.1 415.0 235.0 416.0 234.9C417.0 234.8 418.0 234.8 419.0 234.7C420.0 234.6 421.0 234.5 422.0 234.5C423.0 234.4 424.0 234.3 425.0 234.3C425.9 234.2 426.9 234.1 427.9 234.0C428.9 234.0 429.9 233.9 430.9 233.8C431.9 233.7 432.9 233.7 433.9 233.6C434.9 233.5 435.9 233.4 436.9 233.4C437.9 233.3 438.9 233.2 439.9 233.2C440.9 233.1 441.9 233.0 442.9 232.9C443.9 232.9 444.8 232.8 445.8 232.7C446.8 232.7 447.8 232.6 448.8 232.5C449.8 232.5 450.8 232.4 451.8 232.3C452.8 232.2 453.8 232.2 454.8 232.1C455.8 232.0 456.8 232.0 457.8 231.9C458.8 231.8 459.8 231.8 460.8 231.7C461.8 231.6 462.8 231.6 463.7 231.5C464.7 231.4 465.7 231.4 466.7 231.3C467.7 231.2 468.7 231.2 469.7 231.1C470.7 231.0 471.7 231.0 472.7 230.9C473.7 230.8 474.7 230.8 475.7 230.7C476.7 230.6 477.7 230.6 478.7 230.5C479.7 230.4 480.7 230.4 481.7 230.3C482.7 230.2 483.7 230.2 484.6 230.1C485.6 230.1 486.6 230.0 487.6 229.9C488.6 229.9 489.6 229.8 490.6 229.7C491.6 229.7 492.6 229.6 493.6 229.6C494.6 229.5 495.6 229.4 496.6 229.4C497.6 229.3 498.6 229.2 499.6 229.2C500.6 229.1 501.6 229.1 502.6 229.0C503.6 228.9 504.6 228.9 505.6 228.8C506.5 228.8 507.5 228.7 508.5 228.6C509.5 228.6 510.5 228.5 511.5 228.5C512.5 228.4 513.5 228.3 514.5 228.3C515.5 228.2 516.5 228.2 517.5 228.1C518.5 228.1 519.5 228.0 520.5 227.9C521.5 227.9 522.5 227.8 523.5 227.8C524.5 227.7 525.5 227.7 526.5 227.6C527.5 227.6 528.5 227.5 529.5 227.4C530.4 227.4 531.4 227.3 532.4 227.3C533.4 227.2 534.4 227.2 535.4 227.1C536.4 227.1 537.4 227.0 538.4 227.0C539.4 226.9 540.4 226.9 541.4 226.8C542.4 226.7 543.4 226.7 544.4 226.6C545.4 226.6 546.4 226.5 547.4 226.5C548.4 226.4 549.4 226.4 550.4 226.3C551.4 226.3 552.4 226.2 553.4 226.2C554.3 226.1 555.3 226.1 556.3 226.0C557.3 226.0 558.3 225.9 559.3 225.9C560.3 225.8 561.3 225.8 562.3 225.7C563.3 225.7 564.3 225.6 565.3 225.6C566.3 225.6 567.3 225.5 568.3 225.5C569.3 225.4 570.3 225.4 571.3 225.3C572.3 225.3 573.3 225.2 574.3 225.2C575.3 225.1 576.3 225.1 577.3 225.0C578.3 225.0 579.3 225.0 580.3 224.9C581.2 224.9 582.2 224.8 583.2 224.8C584.2 224.7 585.2 224.7 586.2 224.7C587.2 224.6 588.2 224.6 589.2 224.5C590.2 224.5 591.2 224.4 592.2 224.4C593.2 224.4 594.2 224.3 595.2 224.3C596.2 224.2 597.2 224.2 598.2 224.2C599.2 224.1 600.2 224.1 601.2 224.0C602.2 224.0 603.2 224.0 604.2 223.9C605.2 223.9 606.2 223.9 607.2 223.8C608.2 223.8 609.1 223.7 610.1 223.7C611.1 223.7 612.1 223.6 613.1 223.6C614.1 223.6 615.1 223.5 616.1 223.5C617.1 223.5 618.1 223.4 619.1 223.4C620.1 223.4 621.1 223.3 622.1 223.3C623.1 223.3 624.1 223.2 625.1 223.2C626.1 223.2 627.1 223.1 628.1 223.1C629.1 223.1 630.1 223.0 631.1 223.0C632.1 223.0 633.1 222.9 634.1 222.9C635.1 222.9 636.1 222.8 637.1 222.8C638.1 222.8 639.1 222.8 640.0 222.7C641.0 222.7 642.0 222.7 643.0 222.6C644.0 222.6 645.0 222.6 646.0 222.6C647.0 222.5 648.0 222.5 649.0 222.5C650.0 222.4 651.0 222.4 652.0 222.4C653.0 222.4 654.0 222.3 655.0 222.3C656.0 222.3 657.0 222.3 658.0 222.2C659.0 222.2 660.0 222.2 661.0 222.2C662.0 222.1 663.0 222.1 664.0 222.1C665.0 222.1 666.0 222.1 667.0 222.0C668.0 222.0 669.0 222.0 670.0 222.0C671.0 222.0 672.0 221.9 673.0 221.9C673.9 221.9 674.9 221.9 675.9 221.9C676.9 221.8 677.9 221.8 678.9 221.8C679.9 221.8 680.9 221.8 681.9 221.7C682.9 221.7 683.9 221.7 684.9 221.7C685.9 221.7 686.9 221.7 687.9 221.6C688.9 221.6 690.4 221.6 690.9 221.6"/>
<path stroke="#ff8000" stroke-width="1.3" stroke-dasharray="3.8 1.1 1.9 1.1" d="M107.9 26.4C107.9 26.9 108.1 28.4 108.1 29.4C108.2 30.4 108.3 31.4 108.3 32.4C108.4 33.3 108.5 34.3 108.5 35.3C108.6 36.3 108.6 37.3 108.7 38.3C108.8 39.3 108.8 40.3 108.9 41.3C108.9 42.3 109.0 43.3 109.0 44.3C109.1 45.3 109.1 46.3 109.2 47.3C109.2 48.3 109.3 49.3 109.3 50.3C109.4 51.3 109.4 52.3 109.5 53.3C109.5 54.3 109.6 55.3 109.6 56.3C109.7 57.3 109.8 58.3 109.8 59.3C109.9 60.3 109.9 61.3 110.0 62.3C110.0 63.3 110.1 64.3 110.2 65.3C110.2 66.3 110.3 67.3 110.4 68.3C110.4 69.3 110.5 70.3 110.6 71.3C110.6 72.3 110.7 73.3 110.8 74.3C110.9 75.3 111.0 76.3 111.1 77.3C111.1 78.3 111.2 79.3 111.3 80.3C111.4 81.3 111.5 82.3 111.7 83.3C111.8 84.3 111.9 85.3 112.0 86.3C112.1 87.3 112.2 88.3 112.4 89.2C112.5 90.2 112.6 91.2 112.8 92.2C112.9 93.2 113.1 94.2 113.3 95.2C113.4 96.1 113.6 97.1 113.8 98.1C113.9 99.1 114.1 100.1 114.3 101.0C114.5 102.0 114.7 103.0 114.9 104.0C115.1 105.0 115.3 105.9 115.5 106.9C115.8 107.9 116.0 108.8 116.2 109.8C116.5 110.8 116.7 111.7 117.0 112.7C117.3 113.7 117.5 114.6 117.8 115.6C118.1 116.5 118.4 117.5 118.7 118.5C119.0 119.4 119.3 120.4 119.6 121.3C120.0 122.3 120.3 123.2 120.7 124.2C121.0 125.1 121.4 126.0 121.8 127.0C122.1 127.9 122.5 128.8 122.9 129.7C123.4 130.7 123.8 131.6 124.2 132.5C124.7 133.4 125.1 134.2 125.6 135.1C126.1 136.0 126.6 136.9 127.1 137.7C127.6 138.6 128.1 139.4 128.7 140.2C129.2 141.1 129.8 141.9 130.4 142.7C131.0 143.5 131.6 144.2 132.3 145.0C132.9 145.8 133.6 146.5 134.2 147.2C134.9 148.0 135.6 148.7 136.3 149.4C137.0 150.1 137.8 150.7 138.5 151.4C139.3 152.1 140.0 152.7 140.8 153.3C141.6 154.0 142.4 154.6 143.2 155.2C144.0 155.8 144.8 156.3 145.7 156.9C146.5 157.4 147.4 158.0 148.2 158.5C149.1 159.0 149.9 159.5 150.8 160.0C151.7 160.5 152.6 161.0 153.5 161.5C154.4 161.9 155.3 162.4 156.2 162.8C157.1 163.2 158.0 163.6 158.9 164.0C159.8 164.4 160.7 164.8 161.7 165.1C162.6 165.5 163.5 165.9 164.5 166.2C165.4 166.5 166.3 166.8 167.3 167.1C168.2 167.5 169.2 167.7 170.1 168.0C171.1 168.3 172.1 168.6 173.0 168.8C174.0 169.1 174.9 169.4 175.9 169.6C176.9 169.8 177.9 170.1 178.8 170.3C179.8 170.5 180.8 170.7 181.8 170.9C182.7 171.1 183.7 171.3 184.7 171.5C185.7 171.7 186.7 171.9 187.7 172.1C188.6 172.3 189.6 172.4 190.6 172.6C191.6 172.8 192.6 172.9 193.6 173.1C194.6 173.3 195.6 173.4 196.6 173.6C197.6 173.7 198.6 173.9 199.5 174.0C200.5 174.2 201.5 174.3 202.5 174.5C203.5 174.6 204.5 174.7 205.5 174.9C206.5 175.0 207.5 175.2 208.5 175.3C209.5 175.4 210.5 175.6 211.4 175.7C212.4 175.8 213.4 176.0 214.4 176.1C215.4 176.2 216.4 176.3 217.4 176.5C218.4 176.6 219.4 176.7 220.4 176.8C221.4 176.9 222.4 177.0 223.4 177.2C224.4 177.3 225.3 177.4 226.3 177.5C227.3 177.6 228.3 177.7 229.3 177.8C230.3 177.9 231.3 178.0 232.3 178.1C233.3 178.2 234.3 178.3 235.3 178.4C236.3 178.5 237.3 178.6 238.3 178.7C239.3 178.8 240.3 178.9 241.3 179.0C242.2 179.1 243.2 179.2 244.2 179.3C245.2 179.4 246.2 179.4 247.2 179.5C248.2 179.6 249.2 179.7 250.2 179.8C251.2 179.9 252.2 179.9 253.2 180.0C254.2 180.1 255.2 180.2 256.2 180.3C257.2 180.3 258.2 180.4 259.2 180.5C260.2 180.5 261.2 180.6 262.1 180.7C263.1 180.8 264.1 180.8 265.1 180.9C266.1 181.0 267.1 181.0 268.1 181.1C269.1 181.2 270.1 181.2 271.1 181.3C272.1 181.4 273.1 181.4 274.1 181.5C275.1 181.5 276.1 181.6 277.1 181.7C278.1 181.7 279.1 181.8 280.1 181.8C281.1 181.9 282.1 181.9 283.1 182.0C284.1 182.0 285.1 182.1 286.1 182.1C287.1 182.2 288.1 182.2 289.1 182.3C290.1 182.3 291.1 182.4 292.1 182.4C293.1 182.5 294.1 182.5 295.1 182.6C296.1 182.6 297.1 182.7 298.1 182.7C299.1 182.8 300.1 182.8 301.0 182.9C302.0 182.9 303.0 182.9 304.0 183.0C305.0 183.0 306.0 183.1 307.0 183.1C308.0 183.1 309.0 183.2 310.0 183.2C311.0 183.3 312.0 183.3 313.0 183.3C314.0 183.4 315.0 183.4 316.0 183.4C317.0 183.5 318.0 183.5 319.0 183.5C320.0 183.6 321.0 183.6 322.0 183.6C323.0 183.7 324.0 183.7 325.0 183.7C326.0 183.8 327.0 183.8 328.0 183.8C329.0 183.9 330.0 183.9 331.0 183.9C332.0 183.9 333.0 184.0 334.0 184.0C335.0 184.0 336.0 184.1 337.0 184.1C338.0 184.1 339.0 184.1 340.0 184.2C341.0 184.2 342.0 184.2 343.0 184.2C344.0 184.3 345.0 184.3 346.0 184.3C347.0 184.3 348.0 184.4 349.0 184.4C350.0 184.4 351.0 184.4 352.0 184.5C353.0 184.5 354.0 184.5 355.0 184.5C356.0 184.6 357.0 184.6 358.0 184.6C359.0 184.6 360.0 184.7 361.0 184.7C362.0 184.7 363.0 184.7 364.0 184.7C365.0 184.8 366.0 184.8 367.0 184.8C368.0 184.8 369.0 184.9 370.0 184.9C371.0 184.9 372.0 184.9 373.0 184.9C374.0 185.0 375.0 185.0 376.0 185.0C377.0 185.0 378.0 185.1 379.0 185.1C380.0 185.1 381.0 185.1 382.0 185.1C383.0 185.2 384.0 185.2 385.0 185.2C386.0 185.2 387.0 185.2 388.0 185.3C389.0 185.3 390.0 185.3 391.0 185.3C392.0 185.4 393.0 185.4 394.0 185.4C395.0 185.4 396.0 185.4 397.0 185.5C398.0 185.5 399.0 185.5 400.0 185.5C401.0 185.5 402.0 185.6 403.0 185.6C404.0 185.6 405.0 185.6 406.0 185.6C407.0 185.7 408.0 185.7 409.0 185.7C410.0 185.7 411.0 185.7 412.0 185.8C413.0 185.8 414.0 185.8 415.0 185.8C416.0 185.8 417.0 185.9 418.0 185.9C419.0 185.9 420.0 185.9 421.0 185.9C422.0 186.0 423.0 186.0 424.0 186.0C425.0 186.0 426.0 186.0 427.0 186.1C428.0 186.1 429.0 186.1 430.0 186.1C431.0 186.1 432.0 186.2 433.0 186.2C434.0 186.2 435.0 186.2 436.0 186.2C437.0 186.3 438.0 186.3 439.0 186.3C440.0 186.3 441.0 186.3 442.0 186.3C443.0 186.4 444.0 186.4 445.0 186.4C446.0 186.4 447.0 186.4 448.0 186.5C449.0 186.5 450.0 186.5 451.0 186.5C452.0 186.5 453.0 186.6 454.0 186.6C455.0 186.6 456.0 186.6 457.0 186.6C458.0 186.6 459.0 186.7 460.0 186.7C461.0 186.7 462.0 186.7 463.0 186.7C464.0 186.8 465.0 186.8 466.0 186.8C467.0 186.8 468.0 186.8 469.0 186.8C470.0 186.9 471.0 186.9 472.0 186.9C473.0 186.9 474.0 186.9 475.0 186.9C476.0 187.0 477.0 187.0 478.0 187.0C479.0 187.0 480.0 187.0 481.0 187.1C482.0 187.1 483.0 187.1 484.0 187.1C485.0 187.1 486.0 187.1 487.0 187.2C488.0 187.2 489.0 187.2 490.0 187.2C491.0 187.2 492.0 187.2 493.0 187.3C494.0 187.3 495.0 187.3 496.0 187.3C497.0 187.3 498.0 187.3 499.0 187.3C500.0 187.4 501.0 187.4 502.0 187.4C503.0 187.4 504.0 187.4 505.0 187.4C506.0 187.5 507.0 187.5 508.0 187.5C509.0 187.5 510.0 187.5 511.0 187.5C512.0 187.6 513.0 187.6 514.0 187.6C515.0 187.6 516.0 187.6 517.0 187.6C518.0 187.6 519.0 187.7 520.0 187.7C521.0 187.7 522.0 187.7 523.0 187.7C524.0 187.7 525.0 187.8 526.0 187.8C527.0 187.8 528.0 187.8 529.0 187.8C530.0 187.8 531.0 187.8 532.0 187.9C533.0 187.9 534.0 187.9 535.0 187.9C536.0 187.9 537.0 187.9 537.9 187.9C538.9 188.0 539.9 188.0 540.9 188.0C541.9 188.0 542.9 188.0 543.9 188.0C544.9 188.0 545.9 188.0 546.9 188.1C547.9 188.1 548.9 188.1 549.9 188.1C550.9 188.1 551.9 188.1 552.9 188.1C553.9 188.2 554.9 188.2 555.9 188.2C556.9 188.2 557.9 188.2 558.9 188.2C559.9 188.2 560.9 188.2 561.9 188.3C562.9 188.3 563.9 188.3 564.9 188.3C565.9 188.3 566.9 188.3 567.9 188.3C568.9 188.3 569.9 188.4 570.9 188.4C571.9 188.4 572.9 188.4 573.9 188.4C574.9 188.4 575.9 188.4 576.9 188.4C577.9 188.5 578.9 188.5 579.9 188.5C580.9 188.5 581.9 188.5 582.9 188.5C583.9 188.5 584.9 188.5 585.9 188.6C586.9 188.6 587.9 188.6 588.9 188.6C589.9 188.6 590.9 188.6 591.9 188.6C592.9 188.6 593.9 188.6 594.9 188.7C595.9 188.7 596.9 188.7 597.9 188.7C598.9 188.7 599.9 188.7 600.9 188.7C601.9 188.7 602.9 188.7 603.9 188.7C604.9 188.8 605.9 188.8 606.9 188.8C607.9 188.8 608.9 188.8 609.9 188.8C610.9 188.8 611.9 188.8 612.9 188.8C613.9 188.8 614.9 188.9 615.9 188.9C616.9 188.9 617.9 188.9 618.9 188.9C619.9 188.9 620.9 188.9 621.9 188.9C622.9 188.9 623.9 188.9 624.9 188.9C625.9 189.0 626.9 189.0 627.9 189.0C628.9 189.0 629.9 189.0 630.9 189.0C631.9 189.0 632.9 189.0 633.9 189.0C634.9 189.0 635.9 189.0 636.9 189.1C637.9 189.1 638.9 189.1 639.9 189.1C640.9 189.1 641.9 189.1 642.9 189.1C643.9 189.1 644.9 189.1 645.9 189.1C646.9 189.1 647.9 189.1 648.9 189.1C649.9 189.2 650.9 189.2 651.9 189.2C652.9 189.2 653.9 189.2 654.9 189.2C655.9 189.2 656.9 189.2 657.9 189.2C658.9 189.2 659.9 189.2 660.9 189.2C661.9 189.2 662.9 189.2 663.9 189.2C664.9 189.3 665.9 189.3 666.9 189.3C667.9 189.3 668.9 189.3 669.9 189.3C670.9 189.3 671.9 189.3 672.9 189.3C673.9 189.3 674.9 189.3 675.9 189.3C676.9 189.3 677.9 189.3 678.9 189.3C679.9 189.3 680.9 189.4 681.9 189.4C682.9 189.4 683.9 189.4 684.9 189.4C685.9 189.4 686.9 189.4 687.9 189.4C688.9 189.4 690.4 189.4 690.9 189.4"/>
<path stroke="#ff8000" stroke-width="1.3" stroke-dasharray="3.8 1.1 1.9 1.1" d="M104.5 92.8C104.5 93.3 104.6 94.8 104.6 95.8C104.6 96.8 104.7 97.8 104.7 98.8C104.8 99.8 104.8 100.8 104.8 101.8C104.9 102.8 104.9 103.8 105.0 104.8C105.0 105.8 105.0 106.7 105.1 107.7C105.1 108.7 105.2 109.7 105.2 110.7C105.2 111.7 105.3 112.7 105.3 113.7C105.4 114.7 105.4 115.7 105.5 116.7C105.5 117.7 105.5 118.7 105.6 119.7C105.6 120.7 105.7 121.7 105.7 122.7C105.8 123.7 105.8 124.7 105.9 125.7C105.9 126.7 106.0 127.7 106.0 128.7C106.1 129.7 106.1 130.7 106.2 131.6C106.2 132.6 106.3 133.6 106.3 134.6C106.4 135.6 106.4 136.6 106.5 137.6C106.5 138.6 106.6 139.6 106.6 140.6C106.7 141.6 106.8 142.6 106.8 143.6C106.9 144.6 106.9 145.6 107.0 146.6C107.1 147.6 107.1 148.6 107.2 149.6C107.2 150.6 107.3 151.6 107.4 152.6C107.4 153.5 107.5 154.5 107.6 155.5C107.6 156.5 107.7 157.5 107.8 158.5C107.8 159.5 107.9 160.5 108.0 161.5C108.0 162.5 108.1 163.5 108.2 164.5C108.2 165.5 108.3 166.5 108.4 167.5C108.5 168.5 108.5 169.5 108.6 170.5C108.7 171.5 108.8 172.5 108.9 173.4C108.9 174.4 109.0 175.4 109.1 176.4C109.2 177.4 109.3 178.4 109.4 179.4C109.5 180.4 109.6 181.4 109.7 182.4C109.8 183.4 109.9 184.4 110.0 185.4C110.1 186.3 110.2 187.3 110.3 188.3C110.4 189.3 110.6 190.3 110.7 191.3C110.8 192.3 111.0 193.3 111.1 194.2C111.3 195.2 111.5 196.2 111.6 197.2C111.8 198.2 112.0 199.1 112.2 200.1C112.4 201.1 112.6 202.1 112.9 203.0C113.1 204.0 113.4 205.0 113.7 205.9C113.9 206.9 114.3 207.8 114.6 208.8C115.0 209.7 115.4 210.6 115.8 211.5C116.2 212.4 116.7 213.3 117.3 214.2C117.8 215.0 118.4 215.9 119.0 216.7C119.6 217.4 120.3 218.2 121.1 218.8C121.8 219.4 122.6 220.0 123.5 220.4C124.3 220.8 125.3 221.2 126.2 221.4C127.2 221.7 128.2 221.8 129.2 222.0C130.2 222.1 131.2 222.1 132.2 222.1C133.2 222.1 134.2 222.1 135.2 222.0C136.2 222.0 137.2 221.9 138.2 221.8C139.2 221.7 140.2 221.5 141.2 221.4C142.2 221.3 143.1 221.1 144.1 221.0C145.1 220.8 146.1 220.7 147.1 220.5C148.1 220.4 149.1 220.2 150.0 220.1C151.0 219.9 152.0 219.8 153.0 219.6C154.0 219.5 155.0 219.3 156.0 219.2C157.0 219.1 157.9 218.9 158.9 218.8C159.9 218.7 160.9 218.5 161.9 218.4C162.9 218.3 163.9 218.1 164.9 218.0C165.8 217.9 166.8 217.8 167.8 217.6C168.8 217.5 169.8 217.4 170.8 217.3C171.8 217.1 172.8 217.0 173.8 216.9C174.8 216.8 175.7 216.7 176.7 216.5C177.7 216.4 178.7 216.3 179.7 216.2C180.7 216.1 181.7 216.0 182.7 215.9C183.7 215.8 184.7 215.7 185.6 215.6C186.6 215.5 187.6 215.3 188.6 215.2C189.6 215.1 190.6 215.0 191.6 214.9C192.6 214.8 193.6 214.7 194.6 214.6C195.6 214.5 196.6 214.5 197.5 214.4C198.5 214.3 199.5 214.2 200.5 214.1C201.5 214.0 202.5 213.9 203.5 213.8C204.5 213.7 205.5 213.6 206.5 213.6C207.5 213.5 208.5 213.4 209.5 213.3C210.5 213.2 211.5 213.1 212.4 213.1C213.4 213.0 214.4 212.9 215.4 212.8C216.4 212.7 217.4 212.7 218.4 212.6C219.4 212.5 220.4 212.4 221.4 212.4C222.4 212.3 223.4 212.2 224.4 212.1C225.4 212.1 226.4 212.0 227.4 211.9C228.4 211.9 229.3 211.8 230.3 211.7C231.3 211.7 232.3 211.6 233.3 211.5C234.3 211.5 235.3 211.4 236.3 211.3C237.3 211.3 238.3 211.2 239.3 211.2C240.3 211.1 241.3 211.0 242.3 211.0C243.3 210.9 244.3 210.9 245.3 210.8C246.3 210.8 247.3 210.7 248.3 210.6C249.3 210.6 250.3 210.5 251.3 210.5C252.2 210.4 253.2 210.4 254.2 210.3C255.2 210.3 256.2 210.2 257.2 210.2C258.2 210.1 259.2 210.1 260.2 210.0C261.2 210.0 262.2 209.9 263.2 209.9C264.2 209.8 265.2 209.8 266.2 209.8C267.2 209.7 268.2 209.7 269.2 209.6C270.2 209.6 271.2 209.5 272.2 209.5C273.2 209.5 274.2 209.4 275.2 209.4C276.2 209.3 277.2 209.3 278.2 209.3C279.1 209.2 280.1 209.2 281.1 209.1C282.1 209.1 283.1 209.1 284.1 209.0C285.1 209.0 286.1 209.0 287.1 208.9C288.1 208.9 289.1 208.9 290.1 208.8C291.1 208.8 292.1 208.8 293.1 208.7C294.1 208.7 295.1 208.7 296.1 208.6C297.1 208.6 298.1 208.6 299.1 208.5C300.1 208.5 301.1 208.5 302.1 208.4C303.1 208.4 304.1 208.4 305.1 208.4C306.1 208.3 307.0 208.3 308.0 208.3C309.0 208.2 310.0 208.2 311.0 208.2C312.0 208.2 313.0 208.1 314.0 208.1C315.0 208.1 316.0 208.1 317.0 208.0C318.0 208.0 319.0 208.0 320.0 208.0C321.0 207.9 322.0 207.9 323.0 207.9C324.0 207.9 325.0 207.8 326.0 207.8C327.0 207.8 328.0 207.8 329.0 207.8C330.0 207.7 331.0 207.7 332.0 207.7C333.0 207.7 334.0 207.6 335.0 207.6C336.0 207.6 337.0 207.6 337.9 207.6C338.9 207.5 339.9 207.5 340.9 207.5C341.9 207.5 342.9 207.5 343.9 207.4C344.9 207.4 345.9 207.4 346.9 207.4C347.9 207.4 348.9 207.4 349.9 207.3C350.9 207.3 351.9 207.3 352.9 207.3C353.9 207.3 354.9 207.2 355.9 207.2C356.9 207.2 357.9 207.2 358.9 207.2C359.9 207.2 360.9 207.1 361.9 207.1C362.9 207.1 363.9 207.1 364.9 207.1C365.9 207.1 366.9 207.0 367.9 207.0C368.9 207.0 369.8 207.0 370.8 207.0C371.8 207.0 372.8 207.0 373.8 206.9C374.8 206.9 375.8 206.9 376.8 206.9C377.8 206.9 378.8 206.9 379.8 206.8C380.8 206.8 381.8 206.8 382.8 206.8C383.8 206.8 384.8 206.8 385.8 206.7C386.8 206.7 387.8 206.7 388.8 206.7C389.8 206.7 390.8 206.7 391.8 206.7C392.8 206.6 393.8 206.6 394.8 206.6C395.8 206.6 396.8 206.6 397.8 206.6C398.8 206.6 399.8 206.5 400.8 206.5C401.8 206.5 402.7 206.5 403.7 206.5C404.7 206.5 405.7 206.5 406.7 206.4C407.7 206.4 408.7 206.4 409.7 206.4C410.7 206.4 411.7 206.4 412.7 206.4C413.7 206.3 414.7 206.3 415.7 206.3C416.7 206.3 417.7 206.3 418.7 206.3C419.7 206.3 420.7 206.3 421.7 206.2C422.7 206.2 423.7 206.2 424.7 206.2C425.7 206.2 426.7 206.2 427.7 206.2C428.7 206.1 429.7 206.1 430.7 206.1C431.7 206.1 432.7 206.1 433.7 206.1C434.7 206.1 435.6 206.1 436.6 206.0C437.6 206.0 438.6 206.0 439.6 206.0C440.6 206.0 441.6 206.0 442.6 206.0C443.6 206.0 444.6 205.9 445.6 205.9C446.6 205.9 447.6 205.9 448.6 205.9C449.6 205.9 450.6 205.9 451.6 205.9C452.6 205.8 453.6 205.8 454.6 205.8C455.6 205.8 456.6 205.8 457.6 205.8C458.6 205.8 459.6 205.8 460.6 205.7C461.6 205.7 462.6 205.7 463.6 205.7C464.6 205.7 465.6 205.7 466.6 205.7C467.6 205.7 468.6 205.7 469.5 205.6C470.5 205.6 471.5 205.6 472.5 205.6C473.5 205.6 474.5 205.6 475.5 205.6C476.5 205.6 477.5 205.6 478.5 205.5C479.5 205.5 480.5 205.5 481.5 205.5C482.5 205.5 483.5 205.5 484.5 205.5C485.5 205.5 486.5 205.5 487.5 205.4C488.5 205.4 489.5 205.4 490.5 205.4C491.5 205.4 492.5 205.4 493.5 205.4C494.5 205.4 495.5 205.4 496.5 205.3C497.5 205.3 498.5 205.3 499.5 205.3C500.5 205.3 501.5 205.3 502.5 205.3C503.5 205.3 504.4 205.3 505.4 205.2C506.4 205.2 507.4 205.2 508.4 205.2C509.4 205.2 510.4 205.2 511.4 205.2C512.4 205.2 513.4 205.2 514.4 205.2C515.4 205.1 516.4 205.1 517.4 205.1C518.4 205.1 519.4 205.1 520.4 205.1C521.4 205.1 522.4 205.1 523.4 205.1C524.4 205.0 525.4 205.0 526.4 205.0C527.4 205.0 528.4 205.0 529.4 205.0C530.4 205.0 531.4 205.0 532.4 205.0C533.4 205.0 534.4 204.9 535.4 204.9C536.4 204.9 537.4 204.9 538.3 204.9C539.3 204.9 540.3 204.9 541.3 204.9C542.3 204.9 543.3 204.9 544.3 204.8C545.3 204.8 546.3 204.8 547.3 204.8C548.3 204.8 549.3 204.8 550.3 204.8C551.3 204.8 552.3 204.8 553.3 204.8C554.3 204.7 555.3 204.7 556.3 204.7C557.3 204.7 558.3 204.7 559.3 204.7C560.3 204.7 561.3 204.7 562.3 204.7C563.3 204.7 564.3 204.7 565.3 204.6C566.3 204.6 567.3 204.6 568.3 204.6C569.3 204.6 570.3 204.6 571.3 204.6C572.2 204.6 573.2 204.6 574.2 204.6C575.2 204.5 576.2 204.5 577.2 204.5C578.2 204.5 579.2 204.5 580.2 204.5C581.2 204.5 582.2 204.5 583.2 204.5C584.2 204.5 585.2 204.5 586.2 204.4C587.2 204.4 588.2 204.4 589.2 204.4C590.2 204.4 591.2 204.4 592.2 204.4C593.2 204.4 594.2 204.4 595.2 204.4C596.2 204.3 597.2 204.3 598.2 204.3C599.2 204.3 600.2 204.3 601.2 204.3C602.2 204.3 603.2 204.3 604.2 204.3C605.2 204.3 606.2 204.2 607.1 204.2C608.1 204.2 609.1 204.2 610.1 204.2C611.1 204.2 612.1 204.2 613.1 204.2C614.1 204.2 615.1 204.2 616.1 204.2C617.1 204.1 618.1 204.1 619.1 204.1C620.1 204.1 621.1 204.1 622.1 204.1C623.1 204.1 624.1 204.1 625.1 204.1C626.1 204.1 627.1 204.0 628.1 204.0C629.1 204.0 630.1 204.0 631.1 204.0C632.1 204.0 633.1 204.0 634.1 204.0C635.1 204.0 636.1 204.0 637.1 204.0C638.1 203.9 639.1 203.9 640.1 203.9C641.0 203.9 642.0 203.9 643.0 203.9C644.0 203.9 645.0 203.9 646.0 203.9C647.0 203.9 648.0 203.8 649.0 203.8C650.0 203.8 651.0 203.8 652.0 203.8C653.0 203.8 654.0 203.8 655.0 203.8C656.0 203.8 657.0 203.8 658.0 203.7C659.0 203.7 660.0 203.7 661.0 203.7C662.0 203.7 663.0 203.7 664.0 203.7C665.0 203.7 666.0 203.7 667.0 203.7C668.0 203.6 669.0 203.6 670.0 203.6C671.0 203.6 672.0 203.6 673.0 203.6C674.0 203.6 674.9 203.6 675.9 203.6C676.9 203.5 677.9 203.5 678.9 203.5C679.9 203.5 680.9 203.5 681.9 203.5C682.9 203.5 683.9 203.5 684.9 203.5C685.9 203.5 686.9 203.4 687.9 203.4C688.9 203.4 690.4 203.4 690.9 203.4"/>
<path stroke="#000" stroke-width="1.25" d="M108.2 26.4C108.2 26.9 108.3 28.4 108.4 29.4C108.4 30.4 108.5 31.4 108.5 32.4C108.6 33.4 108.6 34.4 108.7 35.4C108.8 36.4 108.8 37.4 108.9 38.4C108.9 39.4 109.0 40.4 109.0 41.4C109.1 42.4 109.2 43.4 109.2 44.4C109.3 45.4 109.3 46.4 109.4 47.4C109.5 48.4 109.5 49.4 109.6 50.3C109.7 51.3 109.7 52.3 109.8 53.3C109.9 54.3 109.9 55.3 110.0 56.3C110.1 57.3 110.1 58.3 110.2 59.3C110.3 60.3 110.4 61.3 110.4 62.3C110.5 63.3 110.6 64.3 110.7 65.3C110.8 66.3 110.9 67.3 110.9 68.3C111.0 69.3 111.1 70.3 111.2 71.3C111.3 72.3 111.4 73.3 111.5 74.3C111.6 75.3 111.7 76.3 111.8 77.3C111.9 78.3 112.0 79.3 112.1 80.2C112.3 81.2 112.4 82.2 112.5 83.2C112.6 84.2 112.8 85.2 112.9 86.2C113.0 87.2 113.2 88.2 113.4 89.2C113.5 90.1 113.7 91.1 113.9 92.1C114.1 93.1 114.2 94.1 114.5 95.0C114.7 96.0 114.9 97.0 115.1 97.9C115.3 98.9 115.6 99.9 115.9 100.8C116.1 101.8 116.4 102.7 116.7 103.7C116.9 104.7 117.2 105.6 117.5 106.6C117.8 107.5 118.1 108.5 118.5 109.4C118.8 110.4 119.1 111.3 119.5 112.3C119.8 113.2 120.2 114.2 120.5 115.1C120.9 116.1 121.3 117.0 121.6 117.9C122.0 118.9 122.4 119.8 122.9 120.7C123.3 121.6 123.7 122.5 124.2 123.4C124.6 124.3 125.1 125.2 125.6 126.1C126.1 126.9 126.6 127.8 127.2 128.6C127.7 129.4 128.3 130.2 128.9 131.0C129.5 131.8 130.1 132.6 130.8 133.3C131.4 134.0 132.1 134.7 132.8 135.4C133.5 136.1 134.3 136.7 135.0 137.4C135.8 138.0 136.6 138.6 137.4 139.2C138.2 139.7 139.1 140.3 139.9 140.8C140.8 141.4 141.6 141.9 142.5 142.4C143.4 142.9 144.3 143.4 145.2 143.8C146.1 144.3 147.0 144.7 147.9 145.2C148.8 145.6 149.7 146.1 150.6 146.5C151.5 146.9 152.4 147.3 153.4 147.7C154.3 148.1 155.2 148.5 156.1 148.8C157.1 149.2 158.0 149.6 158.9 149.9C159.9 150.2 160.8 150.6 161.8 150.9C162.7 151.2 163.7 151.6 164.6 151.9C165.6 152.2 166.5 152.5 167.5 152.8C168.4 153.0 169.4 153.3 170.3 153.6C171.3 153.9 172.3 154.1 173.2 154.4C174.2 154.6 175.2 154.9 176.1 155.1C177.1 155.3 178.1 155.6 179.0 155.8C180.0 156.0 181.0 156.2 182.0 156.5C182.9 156.7 183.9 156.9 184.9 157.1C185.9 157.3 186.9 157.5 187.8 157.7C188.8 157.9 189.8 158.0 190.8 158.2C191.8 158.4 192.8 158.6 193.7 158.7C194.7 158.9 195.7 159.1 196.7 159.3C197.7 159.4 198.7 159.6 199.7 159.7C200.6 159.9 201.6 160.1 202.6 160.2C203.6 160.4 204.6 160.5 205.6 160.7C206.6 160.8 207.6 161.0 208.5 161.1C209.5 161.2 210.5 161.4 211.5 161.5C212.5 161.7 213.5 161.8 214.5 161.9C215.5 162.1 216.5 162.2 217.5 162.3C218.5 162.4 219.4 162.6 220.4 162.7C221.4 162.8 222.4 162.9 223.4 163.1C224.4 163.2 225.4 163.3 226.4 163.4C227.4 163.5 228.4 163.6 229.4 163.7C230.4 163.8 231.4 164.0 232.3 164.1C233.3 164.2 234.3 164.3 235.3 164.4C236.3 164.5 237.3 164.6 238.3 164.7C239.3 164.8 240.3 164.9 241.3 165.0C242.3 165.0 243.3 165.1 244.3 165.2C245.3 165.3 246.3 165.4 247.3 165.5C248.3 165.6 249.3 165.7 250.3 165.8C251.3 165.8 252.3 165.9 253.3 166.0C254.3 166.1 255.2 166.2 256.2 166.2C257.2 166.3 258.2 166.4 259.2 166.5C260.2 166.5 261.2 166.6 262.2 166.7C263.2 166.8 264.2 166.8 265.2 166.9C266.2 167.0 267.2 167.1 268.2 167.1C269.2 167.2 270.2 167.3 271.2 167.3C272.2 167.4 273.2 167.5 274.2 167.5C275.2 167.6 276.2 167.7 277.2 167.7C278.2 167.8 279.2 167.8 280.2 167.9C281.2 168.0 282.2 168.0 283.2 168.1C284.2 168.2 285.2 168.2 286.2 168.3C287.2 168.3 288.2 168.4 289.2 168.4C290.2 168.5 291.2 168.6 292.2 168.6C293.2 168.7 294.2 168.7 295.2 168.8C296.2 168.8 297.2 168.9 298.1 168.9C299.1 169.0 300.1 169.0 301.1 169.1C302.1 169.1 303.1 169.2 304.1 169.2C305.1 169.3 306.1 169.3 307.1 169.4C308.1 169.4 309.1 169.5 310.1 169.5C311.1 169.6 312.1 169.6 313.1 169.7C314.1 169.7 315.1 169.8 316.1 169.8C317.1 169.9 318.1 169.9 319.1 169.9C320.1 170.0 321.1 170.0 322.1 170.1C323.1 170.1 324.1 170.2 325.1 170.2C326.1 170.2 327.1 170.3 328.1 170.3C329.1 170.4 330.1 170.4 331.1 170.4C332.1 170.5 333.1 170.5 334.1 170.6C335.1 170.6 336.1 170.6 337.1 170.7C338.1 170.7 339.1 170.7 340.1 170.8C341.1 170.8 342.1 170.9 343.1 170.9C344.1 170.9 345.1 171.0 346.1 171.0C347.1 171.0 348.1 171.1 349.1 171.1C350.1 171.1 351.1 171.2 352.1 171.2C353.1 171.2 354.1 171.3 355.1 171.3C356.1 171.3 357.1 171.4 358.1 171.4C359.1 171.4 360.1 171.5 361.1 171.5C362.1 171.5 363.1 171.6 364.1 171.6C365.1 171.6 366.1 171.7 367.1 171.7C368.1 171.7 369.1 171.8 370.1 171.8C371.1 171.8 372.1 171.9 373.1 171.9C374.1 171.9 375.1 171.9 376.1 172.0C377.1 172.0 378.1 172.0 379.1 172.1C380.1 172.1 381.1 172.1 382.1 172.2C383.1 172.2 384.1 172.2 385.0 172.2C386.0 172.3 387.0 172.3 388.0 172.3C389.0 172.4 390.0 172.4 391.0 172.4C392.0 172.4 393.0 172.5 394.0 172.5C395.0 172.5 396.0 172.6 397.0 172.6C398.0 172.6 399.0 172.6 400.0 172.7C401.0 172.7 402.0 172.7 403.0 172.8C404.0 172.8 405.0 172.8 406.0 172.8C407.0 172.9 408.0 172.9 409.0 172.9C410.0 172.9 411.0 173.0 412.0 173.0C413.0 173.0 414.0 173.1 415.0 173.1C416.0 173.1 417.0 173.1 418.0 173.2C419.0 173.2 420.0 173.2 421.0 173.2C422.0 173.3 423.0 173.3 424.0 173.3C425.0 173.3 426.0 173.4 427.0 173.4C428.0 173.4 429.0 173.4 430.0 173.5C431.0 173.5 432.0 173.5 433.0 173.5C434.0 173.6 435.0 173.6 436.0 173.6C437.0 173.6 438.0 173.7 439.0 173.7C440.0 173.7 441.0 173.7 442.0 173.8C443.0 173.8 444.0 173.8 445.0 173.8C446.0 173.9 447.0 173.9 448.0 173.9C449.0 173.9 450.0 173.9 451.0 174.0C452.0 174.0 453.0 174.0 454.0 174.0C455.0 174.1 456.0 174.1 457.0 174.1C458.0 174.1 459.0 174.1 460.0 174.2C461.0 174.2 462.0 174.2 463.0 174.2C464.0 174.3 465.0 174.3 466.0 174.3C467.0 174.3 468.0 174.3 469.0 174.4C470.0 174.4 471.0 174.4 472.0 174.4C473.0 174.4 474.0 174.5 475.0 174.5C476.0 174.5 477.0 174.5 478.0 174.5C479.0 174.6 480.0 174.6 481.0 174.6C482.0 174.6 483.0 174.6 484.0 174.7C485.0 174.7 486.0 174.7 487.0 174.7C488.0 174.7 489.0 174.8 490.0 174.8C491.0 174.8 492.0 174.8 493.0 174.8C494.0 174.9 495.0 174.9 496.0 174.9C497.0 174.9 498.0 174.9 499.0 175.0C500.0 175.0 501.0 175.0 502.0 175.0C503.0 175.0 504.0 175.0 505.0 175.1C506.0 175.1 507.0 175.1 508.0 175.1C509.0 175.1 510.0 175.2 511.0 175.2C512.0 175.2 513.0 175.2 514.0 175.2C515.0 175.2 516.0 175.3 517.0 175.3C518.0 175.3 519.0 175.3 520.0 175.3C521.0 175.3 522.0 175.4 523.0 175.4C524.0 175.4 525.0 175.4 526.0 175.4C527.0 175.4 528.0 175.5 529.0 175.5C530.0 175.5 531.0 175.5 532.0 175.5C533.0 175.5 534.0 175.6 535.0 175.6C536.0 175.6 537.0 175.6 538.0 175.6C539.0 175.6 540.0 175.6 541.0 175.7C542.0 175.7 543.0 175.7 544.0 175.7C545.0 175.7 546.0 175.7 547.0 175.8C548.0 175.8 549.0 175.8 550.0 175.8C551.0 175.8 552.0 175.8 553.0 175.8C554.0 175.9 555.0 175.9 556.0 175.9C557.0 175.9 558.0 175.9 559.0 175.9C560.0 175.9 561.0 176.0 561.9 176.0C562.9 176.0 563.9 176.0 564.9 176.0C565.9 176.0 566.9 176.0 567.9 176.0C568.9 176.1 569.9 176.1 570.9 176.1C571.9 176.1 572.9 176.1 573.9 176.1C574.9 176.1 575.9 176.2 576.9 176.2C577.9 176.2 578.9 176.2 579.9 176.2C580.9 176.2 581.9 176.2 582.9 176.2C583.9 176.2 584.9 176.3 585.9 176.3C586.9 176.3 587.9 176.3 588.9 176.3C589.9 176.3 590.9 176.3 591.9 176.3C592.9 176.4 593.9 176.4 594.9 176.4C595.9 176.4 596.9 176.4 597.9 176.4C598.9 176.4 599.9 176.4 600.9 176.4C601.9 176.5 602.9 176.5 603.9 176.5C604.9 176.5 605.9 176.5 606.9 176.5C607.9 176.5 608.9 176.5 609.9 176.5C610.9 176.6 611.9 176.6 612.9 176.6C613.9 176.6 614.9 176.6 615.9 176.6C616.9 176.6 617.9 176.6 618.9 176.6C619.9 176.6 620.9 176.7 621.9 176.7C622.9 176.7 623.9 176.7 624.9 176.7C625.9 176.7 626.9 176.7 627.9 176.7C628.9 176.7 629.9 176.7 630.9 176.7C631.9 176.8 632.9 176.8 633.9 176.8C634.9 176.8 635.9 176.8 636.9 176.8C637.9 176.8 638.9 176.8 639.9 176.8C640.9 176.8 641.9 176.8 642.9 176.9C643.9 176.9 644.9 176.9 645.9 176.9C646.9 176.9 647.9 176.9 648.9 176.9C649.9 176.9 650.9 176.9 651.9 176.9C652.9 176.9 653.9 176.9 654.9 177.0C655.9 177.0 656.9 177.0 657.9 177.0C658.9 177.0 659.9 177.0 660.9 177.0C661.9 177.0 662.9 177.0 663.9 177.0C664.9 177.0 665.9 177.0 666.9 177.0C667.9 177.0 668.9 177.1 669.9 177.1C670.9 177.1 671.9 177.1 672.9 177.1C673.9 177.1 674.9 177.1 675.9 177.1C676.9 177.1 677.9 177.1 678.9 177.1C679.9 177.1 680.9 177.1 681.9 177.1C682.9 177.2 683.9 177.2 684.9 177.2C685.9 177.2 686.9 177.2 687.9 177.2C688.9 177.2 690.4 177.2 690.9 177.2"/>
<path stroke="#000" stroke-width="1.25" d="M104.5 101.3C104.5 101.8 104.6 103.3 104.6 104.3C104.7 105.3 104.7 106.3 104.8 107.3C104.8 108.3 104.9 109.3 104.9 110.3C105.0 111.3 105.0 112.3 105.1 113.2C105.1 114.2 105.2 115.2 105.2 116.2C105.3 117.2 105.3 118.2 105.4 119.2C105.4 120.2 105.4 121.2 105.5 122.2C105.5 123.2 105.6 124.2 105.6 125.2C105.7 126.2 105.7 127.2 105.8 128.2C105.8 129.2 105.9 130.2 105.9 131.2C106.0 132.2 106.0 133.2 106.1 134.2C106.1 135.2 106.2 136.1 106.2 137.1C106.3 138.1 106.3 139.1 106.4 140.1C106.4 141.1 106.5 142.1 106.5 143.1C106.6 144.1 106.6 145.1 106.7 146.1C106.8 147.1 106.8 148.1 106.9 149.1C106.9 150.1 107.0 151.1 107.0 152.1C107.1 153.1 107.2 154.1 107.2 155.1C107.3 156.1 107.3 157.1 107.4 158.0C107.5 159.0 107.5 160.0 107.6 161.0C107.7 162.0 107.7 163.0 107.8 164.0C107.9 165.0 107.9 166.0 108.0 167.0C108.1 168.0 108.2 169.0 108.2 170.0C108.3 171.0 108.4 172.0 108.5 173.0C108.6 174.0 108.6 175.0 108.7 175.9C108.8 176.9 108.9 177.9 109.0 178.9C109.1 179.9 109.2 180.9 109.3 181.9C109.4 182.9 109.5 183.9 109.6 184.9C109.7 185.9 109.8 186.8 110.0 187.8C110.1 188.8 110.2 189.8 110.3 190.8C110.5 191.8 110.6 192.8 110.7 193.7C110.9 194.7 111.0 195.7 111.2 196.7C111.4 197.7 111.5 198.7 111.7 199.6C111.9 200.6 112.0 201.6 112.2 202.6C112.4 203.5 112.6 204.5 112.8 205.5C113.0 206.5 113.3 207.4 113.5 208.4C113.8 209.4 114.0 210.3 114.3 211.3C114.6 212.3 114.9 213.2 115.2 214.2C115.6 215.1 115.9 216.1 116.3 217.0C116.7 218.0 117.1 218.9 117.5 219.8C118.0 220.7 118.5 221.6 119.0 222.5C119.5 223.4 120.0 224.2 120.6 225.0C121.2 225.8 121.8 226.6 122.5 227.3C123.2 228.1 123.9 228.8 124.6 229.4C125.4 230.0 126.2 230.6 127.0 231.1C127.8 231.6 128.7 232.1 129.5 232.5C130.4 232.9 131.3 233.2 132.3 233.5C133.2 233.8 134.1 234.0 135.1 234.2C136.1 234.4 137.1 234.5 138.1 234.6C139.0 234.7 140.0 234.7 141.1 234.7C142.1 234.8 143.1 234.8 144.1 234.7C145.1 234.7 146.1 234.7 147.1 234.7C148.1 234.6 149.1 234.6 150.1 234.5C151.1 234.5 152.1 234.4 153.1 234.4C154.1 234.3 155.1 234.2 156.1 234.2C157.1 234.1 158.1 234.0 159.1 233.9C160.1 233.8 161.1 233.7 162.1 233.6C163.1 233.5 164.1 233.4 165.1 233.3C166.1 233.2 167.1 233.1 168.1 233.0C169.1 232.9 170.1 232.8 171.0 232.7C172.0 232.6 173.0 232.5 174.0 232.4C175.0 232.3 176.0 232.2 177.0 232.1C178.0 232.0 179.0 232.0 179.9 231.9C180.9 231.8 181.9 231.7 182.9 231.6C183.9 231.5 184.9 231.4 185.9 231.3C186.9 231.3 187.8 231.2 188.8 231.1C189.8 231.0 190.8 231.0 191.8 230.9C192.8 230.8 193.8 230.7 194.8 230.7C195.8 230.6 196.8 230.5 197.7 230.5C198.7 230.4 199.7 230.3 200.7 230.3C201.7 230.2 202.7 230.1 203.7 230.0C204.7 229.9 205.7 229.8 206.7 229.7C207.7 229.6 208.6 229.5 209.6 229.4C210.6 229.3 211.6 229.2 212.6 229.1C213.6 229.0 214.6 229.0 215.6 228.9C216.6 228.8 217.6 228.7 218.6 228.6C219.6 228.6 220.6 228.5 221.6 228.4C222.6 228.3 223.5 228.2 224.5 228.2C225.5 228.1 226.5 228.0 227.5 228.0C228.5 227.9 229.5 227.8 230.5 227.7C231.5 227.7 232.5 227.6 233.5 227.5C234.5 227.5 235.5 227.4 236.5 227.3C237.5 227.3 238.5 227.2 239.5 227.1C240.5 227.1 241.5 227.0 242.5 227.0C243.4 226.9 244.4 226.8 245.4 226.8C246.4 226.7 247.4 226.7 248.4 226.6C249.4 226.5 250.4 226.5 251.4 226.5C252.4 226.4 253.4 226.4 254.4 226.3C255.4 226.3 256.4 226.2 257.4 226.2C258.4 226.1 259.4 226.1 260.4 226.1C261.4 226.0 262.4 226.0 263.4 225.9C264.4 225.9 265.4 225.9 266.4 225.8C267.4 225.8 268.4 225.7 269.3 225.7C270.3 225.7 271.3 225.6 272.3 225.6C273.3 225.6 274.3 225.5 275.3 225.5C276.3 225.4 277.3 225.4 278.3 225.4C279.3 225.3 280.3 225.3 281.3 225.2C282.3 225.2 283.3 225.2 284.3 225.1C285.3 225.1 286.3 225.1 287.3 225.0C288.3 225.0 289.3 224.9 290.3 224.9C291.3 224.9 292.3 224.8 293.3 224.8C294.3 224.8 295.3 224.7 296.3 224.7C297.2 224.7 298.2 224.6 299.2 224.6C300.2 224.6 301.2 224.5 302.2 224.5C303.2 224.4 304.2 224.4 305.2 224.3C306.2 224.3 307.2 224.3 308.2 224.2C309.2 224.2 310.2 224.1 311.2 224.1C312.2 224.0 313.2 224.0 314.2 224.0C315.2 223.9 316.2 223.9 317.2 223.8C318.2 223.8 319.2 223.7 320.2 223.7C321.2 223.7 322.2 223.6 323.2 223.6C324.2 223.5 325.1 223.5 326.1 223.5C327.1 223.4 328.1 223.4 329.1 223.3C330.1 223.3 331.1 223.3 332.1 223.2C333.1 223.2 334.1 223.1 335.1 223.1C336.1 223.1 337.1 223.0 338.1 223.0C339.1 222.9 340.1 222.9 341.1 222.9C342.1 222.8 343.1 222.8 344.1 222.8C345.1 222.7 346.1 222.7 347.1 222.6C348.1 222.6 349.1 222.6 350.1 222.5C351.1 222.5 352.0 222.5 353.0 222.4C354.0 222.4 355.0 222.3 356.0 222.3C357.0 222.3 358.0 222.2 359.0 222.2C360.0 222.2 361.0 222.1 362.0 222.1C363.0 222.0 364.0 222.0 365.0 222.0C366.0 221.9 367.0 221.9 368.0 221.9C369.0 221.8 370.0 221.8 371.0 221.8C372.0 221.7 373.0 221.7 374.0 221.7C375.0 221.6 376.0 221.6 377.0 221.5C378.0 221.5 379.0 221.5 379.9 221.4C380.9 221.4 381.9 221.4 382.9 221.3C383.9 221.3 384.9 221.3 385.9 221.2C386.9 221.2 387.9 221.2 388.9 221.1C389.9 221.1 390.9 221.1 391.9 221.0C392.9 221.0 393.9 221.0 394.9 220.9C395.9 220.9 396.9 220.9 397.9 220.8C398.9 220.8 399.9 220.8 400.9 220.7C401.9 220.7 402.9 220.7 403.9 220.7C404.9 220.6 405.9 220.6 406.9 220.6C407.8 220.5 408.8 220.5 409.8 220.5C410.8 220.4 411.8 220.4 412.8 220.4C413.8 220.3 414.8 220.3 415.8 220.3C416.8 220.2 417.8 220.2 418.8 220.2C419.8 220.2 420.8 220.1 421.8 220.1C422.8 220.1 423.8 220.0 424.8 220.0C425.8 220.0 426.8 219.9 427.8 219.9C428.8 219.9 429.8 219.9 430.8 219.8C431.8 219.8 432.8 219.8 433.8 219.7C434.8 219.7 435.7 219.7 436.7 219.6C437.7 219.6 438.7 219.6 439.7 219.6C440.7 219.5 441.7 219.5 442.7 219.5C443.7 219.4 444.7 219.4 445.7 219.4C446.7 219.4 447.7 219.3 448.7 219.3C449.7 219.3 450.7 219.2 451.7 219.2C452.7 219.2 453.7 219.2 454.7 219.1C455.7 219.1 456.7 219.1 457.7 219.1C458.7 219.0 459.7 219.0 460.7 219.0C461.7 218.9 462.7 218.9 463.6 218.9C464.6 218.9 465.6 218.8 466.6 218.8C467.6 218.8 468.6 218.8 469.6 218.7C470.6 218.7 471.6 218.7 472.6 218.7C473.6 218.6 474.6 218.6 475.6 218.6C476.6 218.6 477.6 218.5 478.6 218.5C479.6 218.5 480.6 218.5 481.6 218.4C482.6 218.4 483.6 218.4 484.6 218.4C485.6 218.4 486.6 218.3 487.6 218.3C488.6 218.3 489.6 218.3 490.6 218.3C491.5 218.2 492.5 218.2 493.5 218.2C494.5 218.2 495.5 218.2 496.5 218.1C497.5 218.1 498.5 218.1 499.5 218.1C500.5 218.1 501.5 218.1 502.5 218.0C503.5 218.0 504.5 218.0 505.5 218.0C506.5 218.0 507.5 217.9 508.5 217.9C509.5 217.9 510.5 217.9 511.5 217.9C512.5 217.9 513.5 217.8 514.5 217.8C515.5 217.8 516.5 217.8 517.5 217.8C518.5 217.8 519.5 217.7 520.4 217.7C521.4 217.7 522.4 217.7 523.4 217.7C524.4 217.7 525.4 217.6 526.4 217.6C527.4 217.6 528.4 217.6 529.4 217.6C530.4 217.6 531.4 217.5 532.4 217.5C533.4 217.5 534.4 217.5 535.4 217.5C536.4 217.5 537.4 217.5 538.4 217.4C539.4 217.4 540.4 217.4 541.4 217.4C542.4 217.4 543.4 217.4 544.4 217.3C545.4 217.3 546.4 217.3 547.4 217.3C548.4 217.3 549.3 217.3 550.3 217.3C551.3 217.2 552.3 217.2 553.3 217.2C554.3 217.2 555.3 217.2 556.3 217.2C557.3 217.2 558.3 217.2 559.3 217.1C560.3 217.1 561.3 217.1 562.3 217.1C563.3 217.1 564.3 217.1 565.3 217.1C566.3 217.0 567.3 217.0 568.3 217.0C569.3 217.0 570.3 217.0 571.3 217.0C572.3 217.0 573.3 217.0 574.3 216.9C575.3 216.9 576.3 216.9 577.3 216.9C578.3 216.9 579.2 216.9 580.2 216.9C581.2 216.9 582.2 216.9 583.2 216.8C584.2 216.8 585.2 216.8 586.2 216.8C587.2 216.8 588.2 216.8 589.2 216.8C590.2 216.8 591.2 216.8 592.2 216.7C593.2 216.7 594.2 216.7 595.2 216.7C596.2 216.7 597.2 216.7 598.2 216.7C599.2 216.7 600.2 216.7 601.2 216.6C602.2 216.6 603.2 216.6 604.2 216.6C605.2 216.6 606.2 216.6 607.2 216.6C608.2 216.6 609.2 216.6 610.1 216.6C611.1 216.5 612.1 216.5 613.1 216.5C614.1 216.5 615.1 216.5 616.1 216.5C617.1 216.5 618.1 216.5 619.1 216.5C620.1 216.5 621.1 216.5 622.1 216.4C623.1 216.4 624.1 216.4 625.1 216.4C626.1 216.4 627.1 216.4 628.1 216.4C629.1 216.4 630.1 216.4 631.1 216.4C632.1 216.4 633.1 216.4 634.1 216.3C635.1 216.3 636.1 216.3 637.1 216.3C638.1 216.3 639.1 216.3 640.1 216.3C641.0 216.3 642.0 216.3 643.0 216.3C644.0 216.3 645.0 216.3 646.0 216.3C647.0 216.2 648.0 216.2 649.0 216.2C650.0 216.2 651.0 216.2 652.0 216.2C653.0 216.2 654.0 216.2 655.0 216.2C656.0 216.2 657.0 216.2 658.0 216.2C659.0 216.2 660.0 216.2 661.0 216.2C662.0 216.2 663.0 216.1 664.0 216.1C665.0 216.1 666.0 216.1 667.0 216.1C668.0 216.1 669.0 216.1 670.0 216.1C671.0 216.1 672.0 216.1 673.0 216.1C673.9 216.1 674.9 216.1 675.9 216.1C676.9 216.1 677.9 216.1 678.9 216.1C679.9 216.1 680.9 216.0 681.9 216.0C682.9 216.0 683.9 216.0 684.9 216.0C685.9 216.0 686.9 216.0 687.9 216.0C688.9 216.0 690.4 216.0 690.9 216.0"/>
</g>
<g fill="#00f50a"><circle cx="123.5" cy="110.0" r="4.4"/><circle cx="154.0" cy="151.6" r="4.4"/><circle cx="184.5" cy="164.2" r="4.4"/><circle cx="215.0" cy="170.4" r="4.4"/><circle cx="245.3" cy="173.9" r="4.4"/><circle cx="275.5" cy="176.7" r="4.4"/><circle cx="305.6" cy="178.4" r="4.4"/><circle cx="336.0" cy="179.9" r="4.4"/></g>
<g fill="#f80008"><circle cx="125.6" cy="243.1" r="4.3"/><circle cx="155.6" cy="230.3" r="4.3"/><circle cx="185.7" cy="223.4" r="4.3"/><circle cx="216.2" cy="219.9" r="4.3"/><circle cx="246.1" cy="216.9" r="4.3"/><circle cx="276.0" cy="215.2" r="4.3"/><circle cx="306.4" cy="213.4" r="4.3"/><circle cx="336.6" cy="209.7" r="4.3"/></g>
<g fill="none" stroke="#303030" stroke-width="0.9">
<path d="M85.60 26.5V400.85"/>
<path d="M85.15 400.40H690.9"/>
</g>
<path fill="none" stroke="#2a2a2a" stroke-width="0.8" d="M85.6 400.40h2.4M85.6 386.80h1.4M85.6 373.20h1.4M85.6 359.60h1.4M85.6 346.00h1.4M85.6 332.40h2.4M85.6 318.80h1.4M85.6 305.20h1.4M85.6 291.60h1.4M85.6 278.00h1.4M85.6 264.40h2.4M85.6 250.80h1.4M85.6 237.20h1.4M85.6 223.60h1.4M85.6 210.00h1.4M85.6 196.40h2.4M85.6 182.80h1.4M85.6 169.20h1.4M85.6 155.60h1.4M85.6 142.00h1.4M85.6 128.40h2.4M85.6 114.80h1.4M85.6 101.20h1.4M85.6 87.60h1.4M85.6 74.00h1.4M85.6 60.40h2.4M85.6 46.80h1.4M85.6 33.20h1.4M85.60 400.4v-2.4M115.86 400.4v-1.4M146.13 400.4v-1.4M176.39 400.4v-1.4M206.66 400.4v-1.4M236.92 400.4v-2.4M267.19 400.4v-1.4M297.46 400.4v-1.4M327.72 400.4v-1.4M357.99 400.4v-1.4M388.25 400.4v-2.4M418.51 400.4v-1.4M448.78 400.4v-1.4M479.04 400.4v-1.4M509.31 400.4v-1.4M539.58 400.4v-2.4M569.84 400.4v-1.4M600.11 400.4v-1.4M630.37 400.4v-1.4M660.63 400.4v-1.4M690.90 400.4v-2.4"/>
<g font-size="16.7" fill="#111">
<text x="83.2" y="405.7" text-anchor="end" textLength="20.6" lengthAdjust="spacingAndGlyphs">0.7</text>
<text x="83.2" y="337.7" text-anchor="end" textLength="20.6" lengthAdjust="spacingAndGlyphs">0.8</text>
<text x="83.2" y="269.7" text-anchor="end" textLength="20.6" lengthAdjust="spacingAndGlyphs">0.9</text>
<text x="83.2" y="201.7" text-anchor="end" textLength="20.6" lengthAdjust="spacingAndGlyphs">1.0</text>
<text x="83.2" y="133.7" text-anchor="end" textLength="20.6" lengthAdjust="spacingAndGlyphs">1.1</text>
<text x="83.2" y="65.7" text-anchor="end" textLength="20.6" lengthAdjust="spacingAndGlyphs">1.2</text>
<text x="85.9" y="418.6" text-anchor="middle">0</text>
<text x="237.2" y="418.6" text-anchor="middle">10</text>
<text x="388.6" y="418.6" text-anchor="middle">20</text>
<text x="539.9" y="418.6" text-anchor="middle">30</text>
<text x="691.2" y="418.6" text-anchor="middle">40</text>
</g>
<g fill="#111">
<text x="0.7" y="17.0" font-size="17.0" >(</text>
<text x="6.3" y="17.0" font-size="17.0" textLength="7.2" lengthAdjust="spacingAndGlyphs" >1</text>
<text x="14.9" y="17.0" font-size="17.0" textLength="11.2" lengthAdjust="spacingAndGlyphs" >−</text>
<text x="26.6" y="17.0" font-size="17.0" font-style="italic" textLength="7.5" lengthAdjust="spacingAndGlyphs" >τ</text>
<text x="35.6" y="17.0" font-size="17.0" >(</text>
<text x="41.5" y="17.0" font-size="17.0" font-style="italic" >h</text>
<text x="50.9" y="17.0" font-size="17.0" >)</text>
<path d="M41.2 3.0H50.1" stroke="#222" stroke-width="0.9" fill="none"/>
<text x="56.8" y="17.0" font-size="17.0" >′</text>
<path d="M60.9 20.2L65.9 3.9" stroke="#222" stroke-width="0.95" fill="none"/>
<text x="67.2" y="17.0" font-size="17.0" >2</text>
<text x="76.0" y="17.0" font-size="17.0" >)</text>
<text x="81.8" y="10.7" font-size="11.8" textLength="16.7" lengthAdjust="spacingAndGlyphs" >1/2</text>
<text x="99.6" y="17.0" font-size="17.5" textLength="9.3" lengthAdjust="spacingAndGlyphs" >λ</text>
<text x="109.6" y="17.0" font-size="17.0" >(</text>
<text x="114.6" y="17.0" font-size="17.0" font-style="italic" >h</text>
<text x="124.6" y="17.0" font-size="17.0" >)</text>
<path d="M114.6 3.0H123.7" stroke="#222" stroke-width="0.9" fill="none"/>
<path d="M129.9 20.2L135.6 3.9" stroke="#222" stroke-width="0.95" fill="none"/>
<text x="136.4" y="17.0" font-size="17.5" textLength="9.3" lengthAdjust="spacingAndGlyphs" >λ</text>
<text x="145.3" y="19.6" font-size="11.8" textLength="24.7" lengthAdjust="spacingAndGlyphs" >GFF</text>
<text x="230.1" y="124.5" font-size="18.9" font-style="italic" textLength="13.6" lengthAdjust="spacingAndGlyphs" >Q</text>
<text x="244.7" y="118.9" font-size="11.5" textLength="6.2" lengthAdjust="spacingAndGlyphs" >+</text>
<path fill="none" stroke="#111" stroke-linecap="round" stroke-linejoin="round" d="M0.12 -0.72 C0.12 -0.92 0.3 -0.99 0.5 -0.98 C0.7 -0.97 0.85 -0.9 1.08 -1.0 M0.62 -0.97 C0.58 -0.6 0.5 -0.15 0.3 -0.02 C0.18 0.05 0.02 0.0 0.0 -0.12 M0.35 -0.5 C0.5 -0.48 0.65 -0.48 0.82 -0.55" transform="translate(250.90 124.50) scale(13.60 11.90)" stroke-width="0.110"/>
<text x="264.1" y="129.1" font-size="10.5" textLength="7.4" lengthAdjust="spacingAndGlyphs" >−</text>
<text x="267.1" y="118.9" font-size="12.0" textLength="37.5" lengthAdjust="spacingAndGlyphs" >(<tspan font-style="italic">ℓ</tspan>−1/2)</text>
<path fill="none" stroke="#111" stroke-linecap="round" stroke-linejoin="round" d="M0.02 -0.62 C0.05 -0.95 0.45 -1.02 0.78 -0.98 C1.08 -0.94 1.05 -0.68 0.85 -0.58 C0.75 -0.53 0.62 -0.52 0.55 -0.52 C0.85 -0.52 0.98 -0.38 0.9 -0.2 C0.8 0.0 0.45 0.04 0.22 -0.02 C0.1 -0.05 0.0 -0.1 0.02 -0.16 M0.52 -0.97 C0.48 -0.7 0.42 -0.3 0.22 -0.02" transform="translate(255.00 313.00) scale(12.40 11.80)" stroke-width="0.115"/>
<text x="267.8" y="304.7" font-size="11.0" >(</text>
<text x="271.4" y="304.7" font-size="11.0" font-style="italic" textLength="4.2" lengthAdjust="spacingAndGlyphs" >ℓ</text>
<text x="275.8" y="304.7" font-size="11.0" >)</text>
<text x="267.3" y="317.9" font-size="12.0" textLength="6.8" lengthAdjust="spacingAndGlyphs" >+</text>
<text x="696.3" y="405.6" font-size="17.0" font-style="italic" >h</text>
<path d="M696.0 392.3H705.0" stroke="#222" stroke-width="0.9" fill="none"/>
</g>
<rect x="373.7" y="237.5" width="271.5" height="160.8" rx="3.2" ry="3.2" fill="#fff" stroke="#111" stroke-width="1.3"/>
<circle cx="386.1" cy="250.1" r="3.4" fill="#f80008"/>
<circle cx="386.1" cy="277.1" r="3.4" fill="#00f50a"/>
<g fill="none">
<path d="M378.9 303.8H401.8" stroke="#7a7a7a" stroke-width="1.1" stroke-dasharray="1.55 1.32"/>
<path d="M378.9 329.6H401.8" stroke="#1010ff" stroke-width="1.25" stroke-dasharray="3.3 1.3"/>
<path d="M378.9 356.2H401.2" stroke="#ff8000" stroke-width="1.3" stroke-dasharray="1.9 1.1 3.8 1.1"/>
<path d="M379.2 384.0H401.6" stroke="#000" stroke-width="1.25"/>
</g>
<g fill="#111">
<path fill="none" stroke="#111" stroke-linecap="round" stroke-linejoin="round" d="M0.02 -0.62 C0.05 -0.95 0.45 -1.02 0.78 -0.98 C1.08 -0.94 1.05 -0.68 0.85 -0.58 C0.75 -0.53 0.62 -0.52 0.55 -0.52 C0.85 -0.52 0.98 -0.38 0.9 -0.2 C0.8 0.0 0.45 0.04 0.22 -0.02 C0.1 -0.05 0.0 -0.1 0.02 -0.16 M0.52 -0.97 C0.48 -0.7 0.42 -0.3 0.22 -0.02" transform="translate(400.50 255.80) scale(10.23 9.73)" stroke-width="0.120"/>
<text x="411.1" y="249.0" font-size="9.1" >(</text>
<text x="414.0" y="249.0" font-size="9.1" font-style="italic" textLength="3.5" lengthAdjust="spacingAndGlyphs" >ℓ</text>
<text x="417.7" y="249.0" font-size="9.1" >)</text>
<text x="410.6" y="259.8" font-size="9.9" textLength="5.6" lengthAdjust="spacingAndGlyphs" >+</text>
<text x="426.0" y="255.8" font-size="13.6" textLength="37.0" lengthAdjust="spacingAndGlyphs" >(Λ=27</text>
<text x="468.6" y="255.8" font-size="13.6" textLength="61.2" lengthAdjust="spacingAndGlyphs" >navigator)</text>
<text x="401.5" y="282.6" font-size="15.2" font-style="italic" textLength="10.9" lengthAdjust="spacingAndGlyphs" >Q</text>
<text x="413.2" y="278.1" font-size="9.2" textLength="5.0" lengthAdjust="spacingAndGlyphs" >+</text>
<path fill="none" stroke="#111" stroke-linecap="round" stroke-linejoin="round" d="M0.12 -0.72 C0.12 -0.92 0.3 -0.99 0.5 -0.98 C0.7 -0.97 0.85 -0.9 1.08 -1.0 M0.62 -0.97 C0.58 -0.6 0.5 -0.15 0.3 -0.02 C0.18 0.05 0.02 0.0 0.0 -0.12 M0.35 -0.5 C0.5 -0.48 0.65 -0.48 0.82 -0.55" transform="translate(418.21 282.60) scale(10.91 9.55)" stroke-width="0.118"/>
<text x="428.8" y="286.3" font-size="8.4" textLength="5.9" lengthAdjust="spacingAndGlyphs" >−</text>
<text x="431.2" y="278.1" font-size="9.6" textLength="30.1" lengthAdjust="spacingAndGlyphs" >(<tspan font-style="italic">ℓ</tspan>−1/2)</text>
<text x="466.6" y="282.6" font-size="13.6" textLength="37.7" lengthAdjust="spacingAndGlyphs" >(Λ=27</text>
<text x="509.4" y="282.6" font-size="13.6" textLength="61.7" lengthAdjust="spacingAndGlyphs" >navigator)</text>
<text x="410.1" y="309.0" font-size="13.6" textLength="13.3" lengthAdjust="spacingAndGlyphs" >LI</text>
<text x="423.9" y="310.9" font-size="9.4" textLength="17.3" lengthAdjust="spacingAndGlyphs" >log (</text>
<text x="441.4" y="310.9" font-size="9.4" font-style="italic" textLength="4.2" lengthAdjust="spacingAndGlyphs" >z</text>
<text x="446.1" y="310.9" font-size="9.4" >)</text>
<text x="450.6" y="309.0" font-size="13.6" >:</text>
<text x="459.6" y="309.0" font-size="13.6" textLength="14.0" lengthAdjust="spacingAndGlyphs" >{1,</text>
<text x="479.5" y="309.0" font-size="14.2" font-style="italic" textLength="9.6" lengthAdjust="spacingAndGlyphs" >σ</text>
<text x="490.4" y="309.0" font-size="13.6" >,</text>
<text x="498.2" y="309.0" font-size="14.2" font-style="italic" textLength="6.2" lengthAdjust="spacingAndGlyphs" >ϵ</text>
<text x="504.0" y="309.0" font-size="13.6" >}</text>
<text x="410.1" y="335.1" font-size="13.6" textLength="13.3" lengthAdjust="spacingAndGlyphs" >LI</text>
<text x="424.3" y="337.2" font-size="9.4" font-style="italic" textLength="4.3" lengthAdjust="spacingAndGlyphs" >z</text>
<text x="429.2" y="337.2" font-size="9.4" textLength="18.0" lengthAdjust="spacingAndGlyphs" >=.05</text>
<text x="448.4" y="335.1" font-size="13.6" >:</text>
<text x="458.9" y="335.1" font-size="13.6" textLength="14.0" lengthAdjust="spacingAndGlyphs" >{1,</text>
<text x="478.8" y="335.1" font-size="14.2" font-style="italic" textLength="9.6" lengthAdjust="spacingAndGlyphs" >σ</text>
<text x="489.7" y="335.1" font-size="13.6" >,</text>
<text x="497.5" y="335.1" font-size="14.2" font-style="italic" textLength="6.2" lengthAdjust="spacingAndGlyphs" >ϵ</text>
<text x="503.0" y="335.1" font-size="13.6" >}</text>
<text x="410.1" y="361.4" font-size="13.6" textLength="13.3" lengthAdjust="spacingAndGlyphs" >LI</text>
<text x="424.3" y="363.5" font-size="9.4" font-style="italic" textLength="4.3" lengthAdjust="spacingAndGlyphs" >z</text>
<text x="429.2" y="363.5" font-size="9.4" textLength="18.0" lengthAdjust="spacingAndGlyphs" >=.05</text>
<text x="448.4" y="361.4" font-size="13.6" >:</text>
<text x="458.9" y="361.4" font-size="13.6" textLength="14.0" lengthAdjust="spacingAndGlyphs" >{1,</text>
<text x="478.8" y="361.4" font-size="14.2" font-style="italic" textLength="9.6" lengthAdjust="spacingAndGlyphs" >σ</text>
<text x="489.7" y="361.4" font-size="13.6" >,</text>
<text x="497.5" y="361.4" font-size="14.2" font-style="italic" textLength="6.2" lengthAdjust="spacingAndGlyphs" >ϵ</text>
<text x="504.9" y="361.4" font-size="13.6" >,</text>
<text x="513.1" y="361.4" font-size="13.6" >[</text>
<text x="517.1" y="361.4" font-size="14.2" font-style="italic" textLength="9.4" lengthAdjust="spacingAndGlyphs" >σ</text>
<text x="526.7" y="361.4" font-size="14.2" font-style="italic" textLength="9.4" lengthAdjust="spacingAndGlyphs" >σ</text>
<text x="536.5" y="361.4" font-size="13.6" >]</text>
<text x="541.2" y="355.6" font-size="8.8" font-style="italic" textLength="3.6" lengthAdjust="spacingAndGlyphs" >ℓ</text>
<text x="544.7" y="356.8" font-size="6.2" textLength="3.2" lengthAdjust="spacingAndGlyphs" >0</text>
<text x="548.2" y="355.6" font-size="8.8" textLength="12.6" lengthAdjust="spacingAndGlyphs" >=2</text>
<text x="562.0" y="361.4" font-size="13.6" >,</text>
<text x="570.9" y="361.4" font-size="13.6" >[</text>
<text x="574.9" y="361.4" font-size="14.2" font-style="italic" textLength="9.4" lengthAdjust="spacingAndGlyphs" >σ</text>
<text x="584.3" y="361.4" font-size="14.2" font-style="italic" textLength="5.8" lengthAdjust="spacingAndGlyphs" >ϵ</text>
<text x="590.1" y="361.4" font-size="13.6" >]</text>
<text x="594.7" y="355.6" font-size="8.8" font-style="italic" textLength="3.6" lengthAdjust="spacingAndGlyphs" >ℓ</text>
<text x="598.2" y="356.8" font-size="6.2" textLength="3.2" lengthAdjust="spacingAndGlyphs" >0</text>
<text x="601.7" y="355.6" font-size="8.8" textLength="12.6" lengthAdjust="spacingAndGlyphs" >=2</text>
<text x="613.4" y="361.4" font-size="13.6" >}</text>
<text x="410.1" y="389.3" font-size="13.6" textLength="13.3" lengthAdjust="spacingAndGlyphs" >LI</text>
<text x="424.3" y="391.4" font-size="9.4" font-style="italic" textLength="4.3" lengthAdjust="spacingAndGlyphs" >z</text>
<text x="429.2" y="391.4" font-size="9.4" textLength="18.0" lengthAdjust="spacingAndGlyphs" >=.05</text>
<text x="448.4" y="389.3" font-size="13.6" >:</text>
<text x="458.9" y="389.3" font-size="13.6" textLength="14.0" lengthAdjust="spacingAndGlyphs" >{1,</text>
<text x="478.8" y="389.3" font-size="14.2" font-style="italic" textLength="9.6" lengthAdjust="spacingAndGlyphs" >σ</text>
<text x="489.7" y="389.3" font-size="13.6" >,</text>
<text x="497.5" y="389.3" font-size="14.2" font-style="italic" textLength="6.2" lengthAdjust="spacingAndGlyphs" >ϵ</text>
<text x="504.9" y="389.3" font-size="13.6" >,</text>
<text x="513.1" y="389.3" font-size="13.6" >[</text>
<text x="517.1" y="389.3" font-size="14.2" font-style="italic" textLength="9.4" lengthAdjust="spacingAndGlyphs" >σ</text>
<text x="526.7" y="389.3" font-size="14.2" font-style="italic" textLength="9.4" lengthAdjust="spacingAndGlyphs" >σ</text>
<text x="536.5" y="389.3" font-size="13.6" >]</text>
<text x="541.2" y="382.2" font-size="8.8" font-style="italic" textLength="3.6" lengthAdjust="spacingAndGlyphs" >ℓ</text>
<text x="544.7" y="383.4" font-size="6.2" textLength="3.2" lengthAdjust="spacingAndGlyphs" >0</text>
<text x="548.2" y="382.2" font-size="8.8" textLength="21.7" lengthAdjust="spacingAndGlyphs" >=100</text>
<text x="540.7" y="392.4" font-size="8.8" textLength="21.7" lengthAdjust="spacingAndGlyphs" >2−98</text>
<text x="571.5" y="389.3" font-size="13.6" >,</text>
<text x="581.1" y="389.3" font-size="13.6" >[</text>
<text x="585.1" y="389.3" font-size="14.2" font-style="italic" textLength="9.4" lengthAdjust="spacingAndGlyphs" >σ</text>
<text x="594.5" y="389.3" font-size="14.2" font-style="italic" textLength="5.8" lengthAdjust="spacingAndGlyphs" >ϵ</text>
<text x="600.3" y="389.3" font-size="13.6" >]</text>
<text x="604.9" y="382.2" font-size="8.8" font-style="italic" textLength="3.6" lengthAdjust="spacingAndGlyphs" >ℓ</text>
<text x="608.4" y="383.4" font-size="6.2" textLength="3.2" lengthAdjust="spacingAndGlyphs" >0</text>
<text x="611.9" y="382.2" font-size="8.8" textLength="22.1" lengthAdjust="spacingAndGlyphs" >=100</text>
<text x="604.4" y="392.4" font-size="8.8" textLength="22.3" lengthAdjust="spacingAndGlyphs" >0−99</text>
<text x="633.5" y="389.3" font-size="13.6" >}</text>
</g>
</svg>
</body></html>
